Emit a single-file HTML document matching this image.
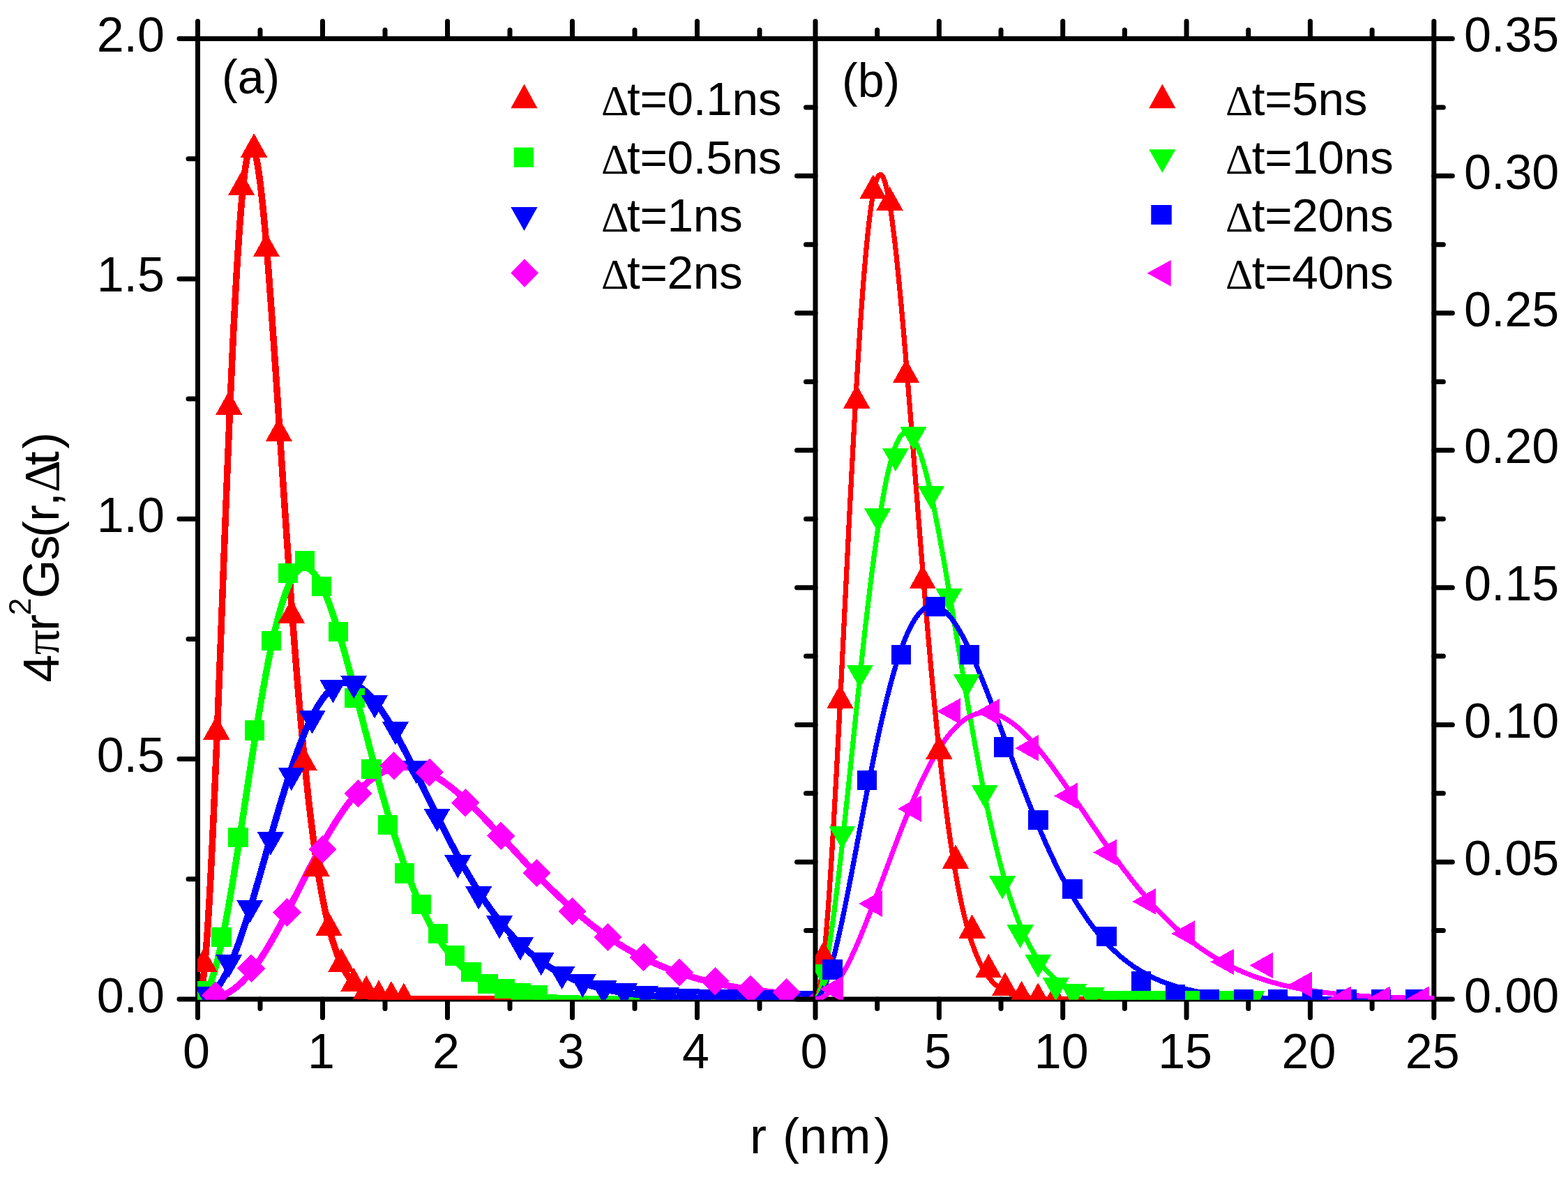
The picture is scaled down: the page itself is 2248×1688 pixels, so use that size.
<!DOCTYPE html>
<html><head><meta charset="utf-8"><title>4πr²Gs(r,Δt) vs r</title>
<style>html,body{margin:0;padding:0;background:#fff;}svg{display:block;}</style></head>
<body><svg xmlns="http://www.w3.org/2000/svg" width="2248" height="1688" viewBox="0 0 2248 1688">
<rect width="2248" height="1688" fill="#fff"/>
<defs><clipPath id="ca"><rect x="283" y="55" width="886.0" height="1378.7"/></clipPath><clipPath id="cb"><rect x="1169.0" y="55" width="887.3" height="1378.7"/></clipPath></defs>
<g fill="none" stroke="#000" stroke-width="7.0"><path stroke-linecap="square" d="M283.5,55.5H1169.0M283.5,1433.0H1169.0M283.5,55.5V1433.0"/><path stroke-linecap="round" d="M283.50,1433.00L283.50,1459.50M283.50,55.50L283.50,30.50M373.00,1433.00L373.00,1446.50M373.00,55.50L373.00,43.00M462.50,1433.00L462.50,1459.50M462.50,55.50L462.50,30.50M552.00,1433.00L552.00,1446.50M552.00,55.50L552.00,43.00M641.50,1433.00L641.50,1459.50M641.50,55.50L641.50,30.50M731.00,1433.00L731.00,1446.50M731.00,55.50L731.00,43.00M820.50,1433.00L820.50,1459.50M820.50,55.50L820.50,30.50M910.00,1433.00L910.00,1446.50M910.00,55.50L910.00,43.00M999.50,1433.00L999.50,1459.50M999.50,55.50L999.50,30.50M1089.00,1433.00L1089.00,1446.50M1089.00,55.50L1089.00,43.00M283.50,1433.00L257.00,1433.00M283.50,1260.81L270.00,1260.81M283.50,1088.62L257.00,1088.62M283.50,916.44L270.00,916.44M283.50,744.25L257.00,744.25M283.50,572.06L270.00,572.06M283.50,399.88L257.00,399.88M283.50,227.69L270.00,227.69M283.50,55.50L257.00,55.50"/></g>
<g clip-path="url(#ca)" shape-rendering="crispEdges"><polyline fill="none" stroke="#ff0000" stroke-width="9.5" stroke-linejoin="round" points="283.5,1433.0 285.0,1432.2 286.5,1429.5 288.0,1424.4 289.5,1416.9 291.0,1406.8 292.5,1394.1 294.0,1378.9 295.5,1361.1 297.0,1340.9 298.5,1318.3 300.0,1293.5 301.5,1266.6 303.0,1237.7 304.5,1207.1 306.0,1174.7 307.5,1140.9 309.0,1105.8 310.5,1069.6 312.0,1032.5 313.5,994.6 315.0,956.1 316.5,917.3 318.0,878.2 319.5,839.1 321.0,800.2 322.5,761.5 324.0,723.3 325.5,685.8 327.0,648.9 328.5,613.0 330.0,578.1 331.5,544.4 333.0,511.8 334.5,480.7 336.0,450.9 337.5,422.7 339.0,396.1 340.5,371.2 342.0,347.9 343.5,326.4 345.0,306.7 346.5,288.8 348.0,272.8 349.5,258.6 351.0,246.2 352.5,235.7 354.0,227.1 355.5,220.2 357.0,215.2 358.5,211.9 360.0,210.3 361.5,210.4 363.0,212.2 364.5,215.6 366.0,220.5 367.5,226.9 369.0,234.7 370.5,243.9 372.0,254.3 373.5,266.0 375.0,278.9 376.5,292.9 378.0,307.9 379.5,323.9 381.0,340.8 382.5,358.5 384.0,376.9 385.5,396.1 387.0,415.8 388.5,436.2 390.0,457.0 391.5,478.2 393.0,499.9 394.5,521.8 396.0,544.0 397.5,566.4 399.0,588.9 400.5,611.5 402.0,634.2 403.5,656.8 405.0,679.4 406.5,702.0 408.0,724.4 409.5,746.6 411.0,768.6 412.5,790.5 414.0,812.0 415.5,833.3 417.0,854.2 418.5,874.8 420.0,895.1 421.5,915.0 423.0,934.4 424.5,953.5 426.0,972.2 427.5,990.4 429.0,1008.2 430.5,1025.5 432.0,1042.4 433.5,1058.8 435.0,1074.8 436.5,1090.2 438.0,1105.3 439.5,1119.8 441.0,1133.9 442.5,1147.5 444.0,1160.7 445.5,1173.4 447.0,1185.7 448.5,1197.5 450.0,1208.9 451.5,1219.9 453.0,1230.4 454.5,1240.5 456.0,1250.3 457.5,1259.6 459.0,1268.5 460.5,1277.1 462.0,1285.3 463.5,1293.1 465.0,1300.6 466.5,1307.8 468.0,1314.7 469.5,1321.2 471.0,1327.4 472.5,1333.3 474.0,1339.0 475.5,1344.3 477.0,1349.4 478.5,1354.3 480.0,1358.9 481.5,1363.3 483.0,1367.4 484.5,1371.3 486.0,1375.1 487.5,1378.6 489.0,1381.9 490.5,1385.1 492.0,1388.1 493.5,1390.9 495.0,1393.5 496.5,1396.0 498.0,1398.4 499.5,1400.6 501.0,1402.7 502.5,1404.7 504.0,1406.6 505.5,1408.3 507.0,1410.0 508.5,1411.5 510.0,1412.9 511.5,1414.3 513.0,1415.6 514.5,1416.8 516.0,1417.9 517.5,1418.9 519.0,1419.9 520.5,1420.8 522.0,1421.7 523.5,1422.5 525.0,1423.3 526.5,1424.0 528.0,1424.6 529.5,1425.2 531.0,1425.8 532.5,1426.3 534.0,1426.8 535.5,1427.3 537.0,1427.7 538.5,1428.1 540.0,1428.5 541.5,1428.8 543.0,1429.1 544.5,1429.4 546.0,1429.7 547.5,1430.0 549.0,1430.2 550.5,1430.4 552.0,1430.6 553.5,1430.8 555.0,1431.0 556.5,1431.1 558.0,1431.3 559.5,1431.4 561.0,1431.5 562.5,1431.7 564.0,1431.8 565.5,1431.9 567.0,1432.0 568.5,1432.1 570.0,1432.1 571.5,1432.2 573.0,1432.3 574.5,1432.3 576.0,1432.4 577.5,1432.4 579.0,1432.5 580.5,1432.5 582.0,1432.6 583.5,1432.6 585.0,1432.6 586.5,1432.7 588.0,1432.7 589.5,1432.7 591.0,1432.8 592.5,1432.8 594.0,1432.8 595.5,1432.8 597.0,1432.8 598.5,1432.8 600.0,1432.9 601.5,1432.9 603.0,1432.9 604.5,1432.9 606.0,1432.9 607.5,1432.9 609.0,1432.9 610.5,1432.9 612.0,1432.9 613.5,1432.9 615.0,1432.9 616.5,1433.0 618.0,1433.0 619.5,1433.0 621.0,1433.0 622.5,1433.0 624.0,1433.0 625.5,1433.0 627.0,1433.0 628.5,1433.0 630.0,1433.0 631.5,1433.0 633.0,1433.0 634.5,1433.0 636.0,1433.0 637.5,1433.0 639.0,1433.0 640.5,1433.0 642.0,1433.0 643.5,1433.0 645.0,1433.0 646.5,1433.0 648.0,1433.0 649.5,1433.0 651.0,1433.0 652.5,1433.0 654.0,1433.0 655.5,1433.0 657.0,1433.0 658.5,1433.0 660.0,1433.0 661.5,1433.0 663.0,1433.0 664.5,1433.0 666.0,1433.0 667.5,1433.0 669.0,1433.0 670.5,1433.0 672.0,1433.0 673.5,1433.0 675.0,1433.0 676.5,1433.0 678.0,1433.0 679.5,1433.0 681.0,1433.0 682.5,1433.0 684.0,1433.0 685.5,1433.0 687.0,1433.0 688.5,1433.0 690.0,1433.0 691.5,1433.0 693.0,1433.0 694.5,1433.0 696.0,1433.0 697.5,1433.0 699.0,1433.0 700.5,1433.0 702.0,1433.0 703.5,1433.0 705.0,1433.0 706.5,1433.0 708.0,1433.0 709.5,1433.0 711.0,1433.0 712.5,1433.0 714.0,1433.0 715.5,1433.0 717.0,1433.0 718.5,1433.0 720.0,1433.0 721.5,1433.0 723.0,1433.0 724.5,1433.0 726.0,1433.0 727.5,1433.0 729.0,1433.0 730.5,1433.0 732.0,1433.0 733.5,1433.0 735.0,1433.0 736.5,1433.0 738.0,1433.0 739.5,1433.0 741.0,1433.0 742.5,1433.0 744.0,1433.0 745.5,1433.0 747.0,1433.0 748.5,1433.0 750.0,1433.0 751.5,1433.0 753.0,1433.0 754.5,1433.0 756.0,1433.0 757.5,1433.0 759.0,1433.0 760.5,1433.0 762.0,1433.0 763.5,1433.0 765.0,1433.0 766.5,1433.0 768.0,1433.0 769.5,1433.0 771.0,1433.0 772.5,1433.0 774.0,1433.0 775.5,1433.0 777.0,1433.0 778.5,1433.0 780.0,1433.0 781.5,1433.0 783.0,1433.0 784.5,1433.0 786.0,1433.0 787.5,1433.0 789.0,1433.0 790.5,1433.0 792.0,1433.0 793.5,1433.0 795.0,1433.0 796.5,1433.0 798.0,1433.0 799.5,1433.0 801.0,1433.0 802.5,1433.0 804.0,1433.0 805.5,1433.0 807.0,1433.0 808.5,1433.0 810.0,1433.0 811.5,1433.0 813.0,1433.0 814.5,1433.0 816.0,1433.0 817.5,1433.0 819.0,1433.0 820.5,1433.0 822.0,1433.0 823.5,1433.0 825.0,1433.0 826.5,1433.0 828.0,1433.0 829.5,1433.0 831.0,1433.0 832.5,1433.0 834.0,1433.0 835.5,1433.0 837.0,1433.0 838.5,1433.0 840.0,1433.0 841.5,1433.0 843.0,1433.0 844.5,1433.0 846.0,1433.0 847.5,1433.0 849.0,1433.0 850.5,1433.0 852.0,1433.0 853.5,1433.0 855.0,1433.0 856.5,1433.0 858.0,1433.0 859.5,1433.0 861.0,1433.0 862.5,1433.0 864.0,1433.0 865.5,1433.0 867.0,1433.0 868.5,1433.0 870.0,1433.0 871.5,1433.0 873.0,1433.0 874.5,1433.0 876.0,1433.0 877.5,1433.0 879.0,1433.0 880.5,1433.0 882.0,1433.0 883.5,1433.0 885.0,1433.0 886.5,1433.0 888.0,1433.0 889.5,1433.0 891.0,1433.0 892.5,1433.0 894.0,1433.0 895.5,1433.0 897.0,1433.0 898.5,1433.0 900.0,1433.0 901.5,1433.0 903.0,1433.0 904.5,1433.0 906.0,1433.0 907.5,1433.0 909.0,1433.0 910.5,1433.0 912.0,1433.0 913.5,1433.0 915.0,1433.0 916.5,1433.0 918.0,1433.0 919.5,1433.0 921.0,1433.0 922.5,1433.0 924.0,1433.0 925.5,1433.0 927.0,1433.0 928.5,1433.0 930.0,1433.0 931.5,1433.0 933.0,1433.0 934.5,1433.0 936.0,1433.0 937.5,1433.0 939.0,1433.0 940.5,1433.0 942.0,1433.0 943.5,1433.0 945.0,1433.0 946.5,1433.0 948.0,1433.0 949.5,1433.0 951.0,1433.0 952.5,1433.0 954.0,1433.0 955.5,1433.0 957.0,1433.0 958.5,1433.0 960.0,1433.0 961.5,1433.0 963.0,1433.0 964.5,1433.0 966.0,1433.0 967.5,1433.0 969.0,1433.0 970.5,1433.0 972.0,1433.0 973.5,1433.0 975.0,1433.0 976.5,1433.0 978.0,1433.0 979.5,1433.0 981.0,1433.0 982.5,1433.0 984.0,1433.0 985.5,1433.0 987.0,1433.0 988.5,1433.0 990.0,1433.0 991.5,1433.0 993.0,1433.0 994.5,1433.0 996.0,1433.0 997.5,1433.0 999.0,1433.0 1000.5,1433.0 1002.0,1433.0 1003.5,1433.0 1005.0,1433.0 1006.5,1433.0 1008.0,1433.0 1009.5,1433.0 1011.0,1433.0 1012.5,1433.0 1014.0,1433.0 1015.5,1433.0 1017.0,1433.0 1018.5,1433.0 1020.0,1433.0 1021.5,1433.0 1023.0,1433.0 1024.5,1433.0 1026.0,1433.0 1027.5,1433.0 1029.0,1433.0 1030.5,1433.0 1032.0,1433.0 1033.5,1433.0 1035.0,1433.0 1036.5,1433.0 1038.0,1433.0 1039.5,1433.0 1041.0,1433.0 1042.5,1433.0 1044.0,1433.0 1045.5,1433.0 1047.0,1433.0 1048.5,1433.0 1050.0,1433.0 1051.5,1433.0 1053.0,1433.0 1054.5,1433.0 1056.0,1433.0 1057.5,1433.0 1059.0,1433.0 1060.5,1433.0 1062.0,1433.0 1063.5,1433.0 1065.0,1433.0 1066.5,1433.0 1068.0,1433.0 1069.5,1433.0 1071.0,1433.0 1072.5,1433.0 1074.0,1433.0 1075.5,1433.0 1077.0,1433.0 1078.5,1433.0 1080.0,1433.0 1081.5,1433.0 1083.0,1433.0 1084.5,1433.0 1086.0,1433.0 1087.5,1433.0 1089.0,1433.0 1090.5,1433.0 1092.0,1433.0 1093.5,1433.0 1095.0,1433.0 1096.5,1433.0 1098.0,1433.0 1099.5,1433.0 1101.0,1433.0 1102.5,1433.0 1104.0,1433.0 1105.5,1433.0 1107.0,1433.0 1108.5,1433.0 1110.0,1433.0 1111.5,1433.0 1113.0,1433.0 1114.5,1433.0 1116.0,1433.0 1117.5,1433.0 1119.0,1433.0 1120.5,1433.0 1122.0,1433.0 1123.5,1433.0 1125.0,1433.0 1126.5,1433.0 1128.0,1433.0 1129.5,1433.0 1131.0,1433.0 1132.5,1433.0 1134.0,1433.0 1135.5,1433.0 1137.0,1433.0 1138.5,1433.0 1140.0,1433.0 1141.5,1433.0 1143.0,1433.0 1144.5,1433.0 1146.0,1433.0 1147.5,1433.0 1149.0,1433.0 1150.5,1433.0 1152.0,1433.0 1153.5,1433.0 1155.0,1433.0 1156.5,1433.0 1158.0,1433.0 1159.5,1433.0 1161.0,1433.0 1162.5,1433.0 1164.0,1433.0 1165.5,1433.0 1167.0,1433.0 1168.5,1433.0 1170.0,1433.0 1171.5,1433.0 1173.0,1433.0 1174.5,1433.0 1176.0,1433.0 1177.5,1433.0 1179.0,1433.0"/><polyline fill="none" stroke="#00ff00" stroke-width="9.5" stroke-linejoin="round" points="283.5,1433.0 285.0,1432.9 286.5,1432.5 288.0,1431.8 289.5,1430.8 291.0,1429.5 292.5,1427.8 294.0,1425.9 295.5,1423.5 297.0,1420.9 298.5,1417.9 300.0,1414.5 301.5,1410.8 303.0,1406.8 304.5,1402.5 306.0,1397.9 307.5,1392.9 309.0,1387.7 310.5,1382.1 312.0,1376.2 313.5,1370.1 315.0,1363.7 316.5,1357.0 318.0,1350.1 319.5,1342.9 321.0,1335.4 322.5,1327.8 324.0,1319.9 325.5,1311.8 327.0,1303.5 328.5,1295.1 330.0,1286.4 331.5,1277.6 333.0,1268.7 334.5,1259.6 336.0,1250.3 337.5,1241.0 339.0,1231.6 340.5,1222.0 342.0,1212.4 343.5,1202.7 345.0,1192.9 346.5,1183.1 348.0,1173.3 349.5,1163.4 351.0,1153.5 352.5,1143.6 354.0,1133.7 355.5,1123.9 357.0,1114.0 358.5,1104.2 360.0,1094.5 361.5,1084.8 363.0,1075.1 364.5,1065.6 366.0,1056.1 367.5,1046.7 369.0,1037.5 370.5,1028.3 372.0,1019.3 373.5,1010.4 375.0,1001.6 376.5,992.9 378.0,984.5 379.5,976.1 381.0,968.0 382.5,960.0 384.0,952.1 385.5,944.5 387.0,937.0 388.5,929.8 390.0,922.7 391.5,915.8 393.0,909.2 394.5,902.7 396.0,896.5 397.5,890.4 399.0,884.6 400.5,879.0 402.0,873.7 403.5,868.5 405.0,863.6 406.5,858.9 408.0,854.5 409.5,850.3 411.0,846.3 412.5,842.5 414.0,839.0 415.5,835.7 417.0,832.7 418.5,829.9 420.0,827.3 421.5,824.9 423.0,822.8 424.5,820.9 426.0,819.3 427.5,817.9 429.0,816.6 430.5,815.7 432.0,814.9 433.5,814.4 435.0,814.1 436.5,814.0 438.0,814.1 439.5,814.4 441.0,814.9 442.5,815.6 444.0,816.6 445.5,817.7 447.0,819.0 448.5,820.5 450.0,822.2 451.5,824.1 453.0,826.2 454.5,828.4 456.0,830.8 457.5,833.4 459.0,836.1 460.5,839.0 462.0,842.0 463.5,845.2 465.0,848.6 466.5,852.1 468.0,855.7 469.5,859.4 471.0,863.3 472.5,867.3 474.0,871.4 475.5,875.7 477.0,880.0 478.5,884.5 480.0,889.0 481.5,893.7 483.0,898.4 484.5,903.3 486.0,908.2 487.5,913.2 489.0,918.3 490.5,923.4 492.0,928.7 493.5,933.9 495.0,939.3 496.5,944.7 498.0,950.1 499.5,955.6 501.0,961.2 502.5,966.8 504.0,972.4 505.5,978.0 507.0,983.7 508.5,989.4 510.0,995.1 511.5,1000.9 513.0,1006.7 514.5,1012.4 516.0,1018.2 517.5,1024.0 519.0,1029.8 520.5,1035.6 522.0,1041.4 523.5,1047.2 525.0,1052.9 526.5,1058.7 528.0,1064.5 529.5,1070.2 531.0,1075.9 532.5,1081.6 534.0,1087.3 535.5,1092.9 537.0,1098.5 538.5,1104.1 540.0,1109.7 541.5,1115.2 543.0,1120.7 544.5,1126.1 546.0,1131.5 547.5,1136.9 549.0,1142.2 550.5,1147.5 552.0,1152.7 553.5,1157.9 555.0,1163.1 556.5,1168.2 558.0,1173.2 559.5,1178.2 561.0,1183.2 562.5,1188.1 564.0,1192.9 565.5,1197.7 567.0,1202.4 568.5,1207.1 570.0,1211.7 571.5,1216.2 573.0,1220.7 574.5,1225.2 576.0,1229.6 577.5,1233.9 579.0,1238.1 580.5,1242.3 582.0,1246.5 583.5,1250.6 585.0,1254.6 586.5,1258.6 588.0,1262.5 589.5,1266.3 591.0,1270.1 592.5,1273.8 594.0,1277.5 595.5,1281.1 597.0,1284.6 598.5,1288.1 600.0,1291.5 601.5,1294.9 603.0,1298.2 604.5,1301.4 606.0,1304.6 607.5,1307.7 609.0,1310.8 610.5,1313.8 612.0,1316.8 613.5,1319.7 615.0,1322.5 616.5,1325.3 618.0,1328.1 619.5,1330.7 621.0,1333.4 622.5,1335.9 624.0,1338.5 625.5,1340.9 627.0,1343.3 628.5,1345.7 630.0,1348.0 631.5,1350.3 633.0,1352.5 634.5,1354.7 636.0,1356.8 637.5,1358.9 639.0,1360.9 640.5,1362.9 642.0,1364.8 643.5,1366.7 645.0,1368.6 646.5,1370.4 648.0,1372.2 649.5,1373.9 651.0,1375.6 652.5,1377.2 654.0,1378.8 655.5,1380.4 657.0,1381.9 658.5,1383.4 660.0,1384.9 661.5,1386.3 663.0,1387.7 664.5,1389.0 666.0,1390.3 667.5,1391.6 669.0,1392.8 670.5,1394.1 672.0,1395.2 673.5,1396.4 675.0,1397.5 676.5,1398.6 678.0,1399.7 679.5,1400.7 681.0,1401.7 682.5,1402.7 684.0,1403.6 685.5,1404.5 687.0,1405.4 688.5,1406.3 690.0,1407.2 691.5,1408.0 693.0,1408.8 694.5,1409.6 696.0,1410.3 697.5,1411.1 699.0,1411.8 700.5,1412.5 702.0,1413.2 703.5,1413.8 705.0,1414.4 706.5,1415.1 708.0,1415.7 709.5,1416.2 711.0,1416.8 712.5,1417.3 714.0,1417.9 715.5,1418.4 717.0,1418.9 718.5,1419.4 720.0,1419.8 721.5,1420.3 723.0,1420.7 724.5,1421.2 726.0,1421.6 727.5,1422.0 729.0,1422.4 730.5,1422.7 732.0,1423.1 733.5,1423.4 735.0,1423.8 736.5,1424.1 738.0,1424.4 739.5,1424.7 741.0,1425.0 742.5,1425.3 744.0,1425.6 745.5,1425.9 747.0,1426.1 748.5,1426.4 750.0,1426.6 751.5,1426.8 753.0,1427.1 754.5,1427.3 756.0,1427.5 757.5,1427.7 759.0,1427.9 760.5,1428.1 762.0,1428.3 763.5,1428.5 765.0,1428.6 766.5,1428.8 768.0,1429.0 769.5,1429.1 771.0,1429.3 772.5,1429.4 774.0,1429.5 775.5,1429.7 777.0,1429.8 778.5,1429.9 780.0,1430.0 781.5,1430.2 783.0,1430.3 784.5,1430.4 786.0,1430.5 787.5,1430.6 789.0,1430.7 790.5,1430.8 792.0,1430.9 793.5,1430.9 795.0,1431.0 796.5,1431.1 798.0,1431.2 799.5,1431.3 801.0,1431.3 802.5,1431.4 804.0,1431.5 805.5,1431.5 807.0,1431.6 808.5,1431.6 810.0,1431.7 811.5,1431.7 813.0,1431.8 814.5,1431.8 816.0,1431.9 817.5,1431.9 819.0,1432.0 820.5,1432.0 822.0,1432.1 823.5,1432.1 825.0,1432.1 826.5,1432.2 828.0,1432.2 829.5,1432.2 831.0,1432.3 832.5,1432.3 834.0,1432.3 835.5,1432.4 837.0,1432.4 838.5,1432.4 840.0,1432.4 841.5,1432.5 843.0,1432.5 844.5,1432.5 846.0,1432.5 847.5,1432.6 849.0,1432.6 850.5,1432.6 852.0,1432.6 853.5,1432.6 855.0,1432.6 856.5,1432.7 858.0,1432.7 859.5,1432.7 861.0,1432.7 862.5,1432.7 864.0,1432.7 865.5,1432.7 867.0,1432.8 868.5,1432.8 870.0,1432.8 871.5,1432.8 873.0,1432.8 874.5,1432.8 876.0,1432.8 877.5,1432.8 879.0,1432.8 880.5,1432.8 882.0,1432.8 883.5,1432.9 885.0,1432.9 886.5,1432.9 888.0,1432.9 889.5,1432.9 891.0,1432.9 892.5,1432.9 894.0,1432.9 895.5,1432.9 897.0,1432.9 898.5,1432.9 900.0,1432.9 901.5,1432.9 903.0,1432.9 904.5,1432.9 906.0,1432.9 907.5,1432.9 909.0,1432.9 910.5,1432.9 912.0,1432.9 913.5,1432.9 915.0,1432.9 916.5,1432.9 918.0,1433.0 919.5,1433.0 921.0,1433.0 922.5,1433.0 924.0,1433.0 925.5,1433.0 927.0,1433.0 928.5,1433.0 930.0,1433.0 931.5,1433.0 933.0,1433.0 934.5,1433.0 936.0,1433.0 937.5,1433.0 939.0,1433.0 940.5,1433.0 942.0,1433.0 943.5,1433.0 945.0,1433.0 946.5,1433.0 948.0,1433.0 949.5,1433.0 951.0,1433.0 952.5,1433.0 954.0,1433.0 955.5,1433.0 957.0,1433.0 958.5,1433.0 960.0,1433.0 961.5,1433.0 963.0,1433.0 964.5,1433.0 966.0,1433.0 967.5,1433.0 969.0,1433.0 970.5,1433.0 972.0,1433.0 973.5,1433.0 975.0,1433.0 976.5,1433.0 978.0,1433.0 979.5,1433.0 981.0,1433.0 982.5,1433.0 984.0,1433.0 985.5,1433.0 987.0,1433.0 988.5,1433.0 990.0,1433.0 991.5,1433.0 993.0,1433.0 994.5,1433.0 996.0,1433.0 997.5,1433.0 999.0,1433.0 1000.5,1433.0 1002.0,1433.0 1003.5,1433.0 1005.0,1433.0 1006.5,1433.0 1008.0,1433.0 1009.5,1433.0 1011.0,1433.0 1012.5,1433.0 1014.0,1433.0 1015.5,1433.0 1017.0,1433.0 1018.5,1433.0 1020.0,1433.0 1021.5,1433.0 1023.0,1433.0 1024.5,1433.0 1026.0,1433.0 1027.5,1433.0 1029.0,1433.0 1030.5,1433.0 1032.0,1433.0 1033.5,1433.0 1035.0,1433.0 1036.5,1433.0 1038.0,1433.0 1039.5,1433.0 1041.0,1433.0 1042.5,1433.0 1044.0,1433.0 1045.5,1433.0 1047.0,1433.0 1048.5,1433.0 1050.0,1433.0 1051.5,1433.0 1053.0,1433.0 1054.5,1433.0 1056.0,1433.0 1057.5,1433.0 1059.0,1433.0 1060.5,1433.0 1062.0,1433.0 1063.5,1433.0 1065.0,1433.0 1066.5,1433.0 1068.0,1433.0 1069.5,1433.0 1071.0,1433.0 1072.5,1433.0 1074.0,1433.0 1075.5,1433.0 1077.0,1433.0 1078.5,1433.0 1080.0,1433.0 1081.5,1433.0 1083.0,1433.0 1084.5,1433.0 1086.0,1433.0 1087.5,1433.0 1089.0,1433.0 1090.5,1433.0 1092.0,1433.0 1093.5,1433.0 1095.0,1433.0 1096.5,1433.0 1098.0,1433.0 1099.5,1433.0 1101.0,1433.0 1102.5,1433.0 1104.0,1433.0 1105.5,1433.0 1107.0,1433.0 1108.5,1433.0 1110.0,1433.0 1111.5,1433.0 1113.0,1433.0 1114.5,1433.0 1116.0,1433.0 1117.5,1433.0 1119.0,1433.0 1120.5,1433.0 1122.0,1433.0 1123.5,1433.0 1125.0,1433.0 1126.5,1433.0 1128.0,1433.0 1129.5,1433.0 1131.0,1433.0 1132.5,1433.0 1134.0,1433.0 1135.5,1433.0 1137.0,1433.0 1138.5,1433.0 1140.0,1433.0 1141.5,1433.0 1143.0,1433.0 1144.5,1433.0 1146.0,1433.0 1147.5,1433.0 1149.0,1433.0 1150.5,1433.0 1152.0,1433.0 1153.5,1433.0 1155.0,1433.0 1156.5,1433.0 1158.0,1433.0 1159.5,1433.0 1161.0,1433.0 1162.5,1433.0 1164.0,1433.0 1165.5,1433.0 1167.0,1433.0 1168.5,1433.0 1170.0,1433.0 1171.5,1433.0 1173.0,1433.0 1174.5,1433.0 1176.0,1433.0 1177.5,1433.0 1179.0,1433.0"/><polyline fill="none" stroke="#0000ff" stroke-width="9.5" stroke-linejoin="round" points="283.5,1433.0 285.0,1433.0 286.5,1432.9 288.0,1432.8 289.5,1432.5 291.0,1432.2 292.5,1431.8 294.0,1431.3 295.5,1430.6 297.0,1429.9 298.5,1429.0 300.0,1428.1 301.5,1427.0 303.0,1425.8 304.5,1424.5 306.0,1423.0 307.5,1421.4 309.0,1419.8 310.5,1417.9 312.0,1416.0 313.5,1414.0 315.0,1411.8 316.5,1409.5 318.0,1407.1 319.5,1404.5 321.0,1401.9 322.5,1399.1 324.0,1396.2 325.5,1393.2 327.0,1390.1 328.5,1386.8 330.0,1383.5 331.5,1380.1 333.0,1376.5 334.5,1372.9 336.0,1369.1 337.5,1365.3 339.0,1361.4 340.5,1357.3 342.0,1353.2 343.5,1349.0 345.0,1344.8 346.5,1340.4 348.0,1336.0 349.5,1331.5 351.0,1326.9 352.5,1322.2 354.0,1317.5 355.5,1312.7 357.0,1307.9 358.5,1303.0 360.0,1298.1 361.5,1293.1 363.0,1288.1 364.5,1283.0 366.0,1277.9 367.5,1272.8 369.0,1267.6 370.5,1262.4 372.0,1257.2 373.5,1252.0 375.0,1246.7 376.5,1241.4 378.0,1236.2 379.5,1230.9 381.0,1225.6 382.5,1220.3 384.0,1215.0 385.5,1209.7 387.0,1204.4 388.5,1199.1 390.0,1193.8 391.5,1188.6 393.0,1183.4 394.5,1178.2 396.0,1173.0 397.5,1167.8 399.0,1162.7 400.5,1157.6 402.0,1152.6 403.5,1147.6 405.0,1142.6 406.5,1137.7 408.0,1132.8 409.5,1128.0 411.0,1123.2 412.5,1118.5 414.0,1113.8 415.5,1109.2 417.0,1104.6 418.5,1100.1 420.0,1095.7 421.5,1091.3 423.0,1087.0 424.5,1082.8 426.0,1078.6 427.5,1074.5 429.0,1070.5 430.5,1066.6 432.0,1062.7 433.5,1058.9 435.0,1055.2 436.5,1051.6 438.0,1048.0 439.5,1044.6 441.0,1041.2 442.5,1037.9 444.0,1034.7 445.5,1031.5 447.0,1028.5 448.5,1025.5 450.0,1022.7 451.5,1019.9 453.0,1017.2 454.5,1014.6 456.0,1012.1 457.5,1009.7 459.0,1007.4 460.5,1005.2 462.0,1003.0 463.5,1001.0 465.0,999.0 466.5,997.2 468.0,995.4 469.5,993.7 471.0,992.1 472.5,990.6 474.0,989.2 475.5,987.9 477.0,986.7 478.5,985.6 480.0,984.6 481.5,983.6 483.0,982.8 484.5,982.0 486.0,981.3 487.5,980.7 489.0,980.2 490.5,979.8 492.0,979.5 493.5,979.2 495.0,979.1 496.5,979.0 498.0,979.0 499.5,979.1 501.0,979.3 502.5,979.5 504.0,979.9 505.5,980.3 507.0,980.8 508.5,981.4 510.0,982.0 511.5,982.7 513.0,983.5 514.5,984.4 516.0,985.3 517.5,986.3 519.0,987.4 520.5,988.6 522.0,989.8 523.5,991.1 525.0,992.4 526.5,993.8 528.0,995.3 529.5,996.9 531.0,998.5 532.5,1000.1 534.0,1001.8 535.5,1003.6 537.0,1005.4 538.5,1007.3 540.0,1009.2 541.5,1011.2 543.0,1013.2 544.5,1015.3 546.0,1017.5 547.5,1019.6 549.0,1021.9 550.5,1024.1 552.0,1026.4 553.5,1028.8 555.0,1031.2 556.5,1033.6 558.0,1036.1 559.5,1038.6 561.0,1041.1 562.5,1043.7 564.0,1046.3 565.5,1048.9 567.0,1051.6 568.5,1054.3 570.0,1057.0 571.5,1059.8 573.0,1062.6 574.5,1065.4 576.0,1068.2 577.5,1071.1 579.0,1073.9 580.5,1076.8 582.0,1079.7 583.5,1082.7 585.0,1085.6 586.5,1088.6 588.0,1091.5 589.5,1094.5 591.0,1097.5 592.5,1100.5 594.0,1103.5 595.5,1106.6 597.0,1109.6 598.5,1112.7 600.0,1115.7 601.5,1118.8 603.0,1121.8 604.5,1124.9 606.0,1128.0 607.5,1131.1 609.0,1134.1 610.5,1137.2 612.0,1140.3 613.5,1143.3 615.0,1146.4 616.5,1149.5 618.0,1152.5 619.5,1155.6 621.0,1158.7 622.5,1161.7 624.0,1164.8 625.5,1167.8 627.0,1170.8 628.5,1173.8 630.0,1176.8 631.5,1179.8 633.0,1182.8 634.5,1185.8 636.0,1188.8 637.5,1191.7 639.0,1194.7 640.5,1197.6 642.0,1200.5 643.5,1203.4 645.0,1206.3 646.5,1209.2 648.0,1212.1 649.5,1214.9 651.0,1217.7 652.5,1220.5 654.0,1223.3 655.5,1226.1 657.0,1228.9 658.5,1231.6 660.0,1234.3 661.5,1237.0 663.0,1239.7 664.5,1242.4 666.0,1245.0 667.5,1247.6 669.0,1250.2 670.5,1252.8 672.0,1255.4 673.5,1257.9 675.0,1260.4 676.5,1262.9 678.0,1265.4 679.5,1267.9 681.0,1270.3 682.5,1272.7 684.0,1275.1 685.5,1277.5 687.0,1279.8 688.5,1282.1 690.0,1284.4 691.5,1286.7 693.0,1289.0 694.5,1291.2 696.0,1293.4 697.5,1295.6 699.0,1297.7 700.5,1299.9 702.0,1302.0 703.5,1304.1 705.0,1306.2 706.5,1308.2 708.0,1310.2 709.5,1312.2 711.0,1314.2 712.5,1316.2 714.0,1318.1 715.5,1320.0 717.0,1321.9 718.5,1323.8 720.0,1325.6 721.5,1327.4 723.0,1329.2 724.5,1331.0 726.0,1332.7 727.5,1334.5 729.0,1336.2 730.5,1337.8 732.0,1339.5 733.5,1341.1 735.0,1342.8 736.5,1344.4 738.0,1345.9 739.5,1347.5 741.0,1349.0 742.5,1350.5 744.0,1352.0 745.5,1353.5 747.0,1354.9 748.5,1356.4 750.0,1357.8 751.5,1359.1 753.0,1360.5 754.5,1361.9 756.0,1363.2 757.5,1364.5 759.0,1365.8 760.5,1367.0 762.0,1368.3 763.5,1369.5 765.0,1370.7 766.5,1371.9 768.0,1373.1 769.5,1374.2 771.0,1375.4 772.5,1376.5 774.0,1377.6 775.5,1378.7 777.0,1379.8 778.5,1380.8 780.0,1381.8 781.5,1382.8 783.0,1383.8 784.5,1384.8 786.0,1385.8 787.5,1386.7 789.0,1387.7 790.5,1388.6 792.0,1389.5 793.5,1390.4 795.0,1391.2 796.5,1392.1 798.0,1392.9 799.5,1393.8 801.0,1394.6 802.5,1395.4 804.0,1396.2 805.5,1396.9 807.0,1397.7 808.5,1398.4 810.0,1399.2 811.5,1399.9 813.0,1400.6 814.5,1401.3 816.0,1401.9 817.5,1402.6 819.0,1403.3 820.5,1403.9 822.0,1404.5 823.5,1405.2 825.0,1405.8 826.5,1406.4 828.0,1406.9 829.5,1407.5 831.0,1408.1 832.5,1408.6 834.0,1409.2 835.5,1409.7 837.0,1410.2 838.5,1410.7 840.0,1411.2 841.5,1411.7 843.0,1412.2 844.5,1412.6 846.0,1413.1 847.5,1413.6 849.0,1414.0 850.5,1414.4 852.0,1414.9 853.5,1415.3 855.0,1415.7 856.5,1416.1 858.0,1416.5 859.5,1416.9 861.0,1417.2 862.5,1417.6 864.0,1418.0 865.5,1418.3 867.0,1418.7 868.5,1419.0 870.0,1419.3 871.5,1419.6 873.0,1420.0 874.5,1420.3 876.0,1420.6 877.5,1420.9 879.0,1421.2 880.5,1421.4 882.0,1421.7 883.5,1422.0 885.0,1422.3 886.5,1422.5 888.0,1422.8 889.5,1423.0 891.0,1423.3 892.5,1423.5 894.0,1423.7 895.5,1424.0 897.0,1424.2 898.5,1424.4 900.0,1424.6 901.5,1424.8 903.0,1425.0 904.5,1425.2 906.0,1425.4 907.5,1425.6 909.0,1425.8 910.5,1426.0 912.0,1426.2 913.5,1426.3 915.0,1426.5 916.5,1426.7 918.0,1426.8 919.5,1427.0 921.0,1427.1 922.5,1427.3 924.0,1427.4 925.5,1427.6 927.0,1427.7 928.5,1427.8 930.0,1428.0 931.5,1428.1 933.0,1428.2 934.5,1428.4 936.0,1428.5 937.5,1428.6 939.0,1428.7 940.5,1428.8 942.0,1428.9 943.5,1429.0 945.0,1429.2 946.5,1429.3 948.0,1429.4 949.5,1429.4 951.0,1429.5 952.5,1429.6 954.0,1429.7 955.5,1429.8 957.0,1429.9 958.5,1430.0 960.0,1430.1 961.5,1430.1 963.0,1430.2 964.5,1430.3 966.0,1430.4 967.5,1430.4 969.0,1430.5 970.5,1430.6 972.0,1430.6 973.5,1430.7 975.0,1430.8 976.5,1430.8 978.0,1430.9 979.5,1431.0 981.0,1431.0 982.5,1431.1 984.0,1431.1 985.5,1431.2 987.0,1431.2 988.5,1431.3 990.0,1431.3 991.5,1431.4 993.0,1431.4 994.5,1431.5 996.0,1431.5 997.5,1431.5 999.0,1431.6 1000.5,1431.6 1002.0,1431.7 1003.5,1431.7 1005.0,1431.7 1006.5,1431.8 1008.0,1431.8 1009.5,1431.8 1011.0,1431.9 1012.5,1431.9 1014.0,1431.9 1015.5,1432.0 1017.0,1432.0 1018.5,1432.0 1020.0,1432.1 1021.5,1432.1 1023.0,1432.1 1024.5,1432.1 1026.0,1432.2 1027.5,1432.2 1029.0,1432.2 1030.5,1432.2 1032.0,1432.3 1033.5,1432.3 1035.0,1432.3 1036.5,1432.3 1038.0,1432.3 1039.5,1432.4 1041.0,1432.4 1042.5,1432.4 1044.0,1432.4 1045.5,1432.4 1047.0,1432.4 1048.5,1432.5 1050.0,1432.5 1051.5,1432.5 1053.0,1432.5 1054.5,1432.5 1056.0,1432.5 1057.5,1432.6 1059.0,1432.6 1060.5,1432.6 1062.0,1432.6 1063.5,1432.6 1065.0,1432.6 1066.5,1432.6 1068.0,1432.6 1069.5,1432.7 1071.0,1432.7 1072.5,1432.7 1074.0,1432.7 1075.5,1432.7 1077.0,1432.7 1078.5,1432.7 1080.0,1432.7 1081.5,1432.7 1083.0,1432.7 1084.5,1432.7 1086.0,1432.8 1087.5,1432.8 1089.0,1432.8 1090.5,1432.8 1092.0,1432.8 1093.5,1432.8 1095.0,1432.8 1096.5,1432.8 1098.0,1432.8 1099.5,1432.8 1101.0,1432.8 1102.5,1432.8 1104.0,1432.8 1105.5,1432.8 1107.0,1432.8 1108.5,1432.8 1110.0,1432.9 1111.5,1432.9 1113.0,1432.9 1114.5,1432.9 1116.0,1432.9 1117.5,1432.9 1119.0,1432.9 1120.5,1432.9 1122.0,1432.9 1123.5,1432.9 1125.0,1432.9 1126.5,1432.9 1128.0,1432.9 1129.5,1432.9 1131.0,1432.9 1132.5,1432.9 1134.0,1432.9 1135.5,1432.9 1137.0,1432.9 1138.5,1432.9 1140.0,1432.9 1141.5,1432.9 1143.0,1432.9 1144.5,1432.9 1146.0,1432.9 1147.5,1432.9 1149.0,1432.9 1150.5,1432.9 1152.0,1432.9 1153.5,1432.9 1155.0,1432.9 1156.5,1432.9 1158.0,1432.9 1159.5,1433.0 1161.0,1433.0 1162.5,1433.0 1164.0,1433.0 1165.5,1433.0 1167.0,1433.0 1168.5,1433.0 1170.0,1433.0 1171.5,1433.0 1173.0,1433.0 1174.5,1433.0 1176.0,1433.0 1177.5,1433.0 1179.0,1433.0"/><polyline fill="none" stroke="#ff00ff" stroke-width="9.5" stroke-linejoin="round" points="283.5,1433.0 285.0,1433.0 286.5,1433.0 288.0,1433.0 289.5,1433.0 291.0,1432.9 292.5,1432.9 294.0,1432.8 295.5,1432.8 297.0,1432.7 298.5,1432.5 300.0,1432.4 301.5,1432.2 303.0,1432.0 304.5,1431.8 306.0,1431.5 307.5,1431.2 309.0,1430.9 310.5,1430.5 312.0,1430.1 313.5,1429.7 315.0,1429.2 316.5,1428.7 318.0,1428.2 319.5,1427.6 321.0,1426.9 322.5,1426.2 324.0,1425.5 325.5,1424.7 327.0,1423.9 328.5,1423.0 330.0,1422.1 331.5,1421.1 333.0,1420.1 334.5,1419.1 336.0,1418.0 337.5,1416.8 339.0,1415.6 340.5,1414.3 342.0,1413.0 343.5,1411.7 345.0,1410.3 346.5,1408.9 348.0,1407.4 349.5,1405.8 351.0,1404.2 352.5,1402.6 354.0,1400.9 355.5,1399.2 357.0,1397.4 358.5,1395.6 360.0,1393.7 361.5,1391.8 363.0,1389.9 364.5,1387.9 366.0,1385.9 367.5,1383.8 369.0,1381.7 370.5,1379.5 372.0,1377.3 373.5,1375.1 375.0,1372.8 376.5,1370.5 378.0,1368.2 379.5,1365.8 381.0,1363.4 382.5,1360.9 384.0,1358.4 385.5,1355.9 387.0,1353.4 388.5,1350.8 390.0,1348.2 391.5,1345.6 393.0,1343.0 394.5,1340.3 396.0,1337.6 397.5,1334.9 399.0,1332.1 400.5,1329.3 402.0,1326.6 403.5,1323.8 405.0,1320.9 406.5,1318.1 408.0,1315.3 409.5,1312.4 411.0,1309.5 412.5,1306.6 414.0,1303.7 415.5,1300.8 417.0,1297.9 418.5,1295.0 420.0,1292.0 421.5,1289.1 423.0,1286.1 424.5,1283.2 426.0,1280.2 427.5,1277.3 429.0,1274.3 430.5,1271.4 432.0,1268.4 433.5,1265.5 435.0,1262.6 436.5,1259.6 438.0,1256.7 439.5,1253.8 441.0,1250.9 442.5,1248.0 444.0,1245.1 445.5,1242.2 447.0,1239.3 448.5,1236.4 450.0,1233.6 451.5,1230.8 453.0,1227.9 454.5,1225.1 456.0,1222.4 457.5,1219.6 459.0,1216.8 460.5,1214.1 462.0,1211.4 463.5,1208.7 465.0,1206.1 466.5,1203.4 468.0,1200.8 469.5,1198.2 471.0,1195.6 472.5,1193.1 474.0,1190.6 475.5,1188.1 477.0,1185.6 478.5,1183.2 480.0,1180.8 481.5,1178.4 483.0,1176.0 484.5,1173.7 486.0,1171.4 487.5,1169.2 489.0,1166.9 490.5,1164.7 492.0,1162.6 493.5,1160.4 495.0,1158.3 496.5,1156.3 498.0,1154.2 499.5,1152.2 501.0,1150.3 502.5,1148.4 504.0,1146.5 505.5,1144.6 507.0,1142.8 508.5,1141.0 510.0,1139.3 511.5,1137.6 513.0,1135.9 514.5,1134.3 516.0,1132.7 517.5,1131.1 519.0,1129.6 520.5,1128.1 522.0,1126.6 523.5,1125.2 525.0,1123.9 526.5,1122.5 528.0,1121.2 529.5,1120.0 531.0,1118.8 532.5,1117.6 534.0,1116.5 535.5,1115.4 537.0,1114.3 538.5,1113.3 540.0,1112.3 541.5,1111.3 543.0,1110.4 544.5,1109.6 546.0,1108.7 547.5,1107.9 549.0,1107.2 550.5,1106.5 552.0,1105.8 553.5,1105.2 555.0,1104.6 556.5,1104.0 558.0,1103.5 559.5,1103.0 561.0,1102.5 562.5,1102.1 564.0,1101.7 565.5,1101.4 567.0,1101.1 568.5,1100.8 570.0,1100.6 571.5,1100.4 573.0,1100.2 574.5,1100.1 576.0,1100.0 577.5,1099.9 579.0,1099.9 580.5,1099.9 582.0,1100.0 583.5,1100.0 585.0,1100.1 586.5,1100.3 588.0,1100.5 589.5,1100.7 591.0,1100.9 592.5,1101.2 594.0,1101.5 595.5,1101.8 597.0,1102.2 598.5,1102.6 600.0,1103.0 601.5,1103.5 603.0,1103.9 604.5,1104.5 606.0,1105.0 607.5,1105.6 609.0,1106.2 610.5,1106.8 612.0,1107.4 613.5,1108.1 615.0,1108.8 616.5,1109.6 618.0,1110.3 619.5,1111.1 621.0,1111.9 622.5,1112.7 624.0,1113.6 625.5,1114.5 627.0,1115.4 628.5,1116.3 630.0,1117.2 631.5,1118.2 633.0,1119.2 634.5,1120.2 636.0,1121.2 637.5,1122.3 639.0,1123.4 640.5,1124.5 642.0,1125.6 643.5,1126.7 645.0,1127.8 646.5,1129.0 648.0,1130.2 649.5,1131.4 651.0,1132.6 652.5,1133.9 654.0,1135.1 655.5,1136.4 657.0,1137.7 658.5,1139.0 660.0,1140.3 661.5,1141.6 663.0,1143.0 664.5,1144.3 666.0,1145.7 667.5,1147.1 669.0,1148.5 670.5,1149.9 672.0,1151.3 673.5,1152.7 675.0,1154.2 676.5,1155.6 678.0,1157.1 679.5,1158.6 681.0,1160.0 682.5,1161.5 684.0,1163.0 685.5,1164.5 687.0,1166.1 688.5,1167.6 690.0,1169.1 691.5,1170.7 693.0,1172.2 694.5,1173.8 696.0,1175.3 697.5,1176.9 699.0,1178.5 700.5,1180.1 702.0,1181.6 703.5,1183.2 705.0,1184.8 706.5,1186.4 708.0,1188.0 709.5,1189.6 711.0,1191.2 712.5,1192.8 714.0,1194.5 715.5,1196.1 717.0,1197.7 718.5,1199.3 720.0,1200.9 721.5,1202.6 723.0,1204.2 724.5,1205.8 726.0,1207.5 727.5,1209.1 729.0,1210.7 730.5,1212.3 732.0,1214.0 733.5,1215.6 735.0,1217.2 736.5,1218.9 738.0,1220.5 739.5,1222.1 741.0,1223.7 742.5,1225.4 744.0,1227.0 745.5,1228.6 747.0,1230.2 748.5,1231.8 750.0,1233.4 751.5,1235.0 753.0,1236.7 754.5,1238.3 756.0,1239.8 757.5,1241.4 759.0,1243.0 760.5,1244.6 762.0,1246.2 763.5,1247.8 765.0,1249.4 766.5,1250.9 768.0,1252.5 769.5,1254.0 771.0,1255.6 772.5,1257.2 774.0,1258.7 775.5,1260.2 777.0,1261.8 778.5,1263.3 780.0,1264.8 781.5,1266.3 783.0,1267.8 784.5,1269.3 786.0,1270.8 787.5,1272.3 789.0,1273.8 790.5,1275.3 792.0,1276.8 793.5,1278.2 795.0,1279.7 796.5,1281.1 798.0,1282.6 799.5,1284.0 801.0,1285.4 802.5,1286.9 804.0,1288.3 805.5,1289.7 807.0,1291.1 808.5,1292.5 810.0,1293.9 811.5,1295.2 813.0,1296.6 814.5,1298.0 816.0,1299.3 817.5,1300.7 819.0,1302.0 820.5,1303.3 822.0,1304.6 823.5,1306.0 825.0,1307.3 826.5,1308.6 828.0,1309.8 829.5,1311.1 831.0,1312.4 832.5,1313.6 834.0,1314.9 835.5,1316.1 837.0,1317.4 838.5,1318.6 840.0,1319.8 841.5,1321.0 843.0,1322.2 844.5,1323.4 846.0,1324.6 847.5,1325.8 849.0,1327.0 850.5,1328.1 852.0,1329.3 853.5,1330.4 855.0,1331.5 856.5,1332.7 858.0,1333.8 859.5,1334.9 861.0,1336.0 862.5,1337.1 864.0,1338.2 865.5,1339.2 867.0,1340.3 868.5,1341.3 870.0,1342.4 871.5,1343.4 873.0,1344.5 874.5,1345.5 876.0,1346.5 877.5,1347.5 879.0,1348.5 880.5,1349.5 882.0,1350.5 883.5,1351.4 885.0,1352.4 886.5,1353.3 888.0,1354.3 889.5,1355.2 891.0,1356.1 892.5,1357.1 894.0,1358.0 895.5,1358.9 897.0,1359.8 898.5,1360.6 900.0,1361.5 901.5,1362.4 903.0,1363.2 904.5,1364.1 906.0,1364.9 907.5,1365.8 909.0,1366.6 910.5,1367.4 912.0,1368.2 913.5,1369.0 915.0,1369.8 916.5,1370.6 918.0,1371.4 919.5,1372.2 921.0,1372.9 922.5,1373.7 924.0,1374.5 925.5,1375.2 927.0,1375.9 928.5,1376.7 930.0,1377.4 931.5,1378.1 933.0,1378.8 934.5,1379.5 936.0,1380.2 937.5,1380.9 939.0,1381.5 940.5,1382.2 942.0,1382.9 943.5,1383.5 945.0,1384.2 946.5,1384.8 948.0,1385.4 949.5,1386.1 951.0,1386.7 952.5,1387.3 954.0,1387.9 955.5,1388.5 957.0,1389.1 958.5,1389.7 960.0,1390.3 961.5,1390.8 963.0,1391.4 964.5,1392.0 966.0,1392.5 967.5,1393.1 969.0,1393.6 970.5,1394.2 972.0,1394.7 973.5,1395.2 975.0,1395.7 976.5,1396.2 978.0,1396.7 979.5,1397.2 981.0,1397.7 982.5,1398.2 984.0,1398.7 985.5,1399.2 987.0,1399.7 988.5,1400.1 990.0,1400.6 991.5,1401.0 993.0,1401.5 994.5,1401.9 996.0,1402.4 997.5,1402.8 999.0,1403.2 1000.5,1403.6 1002.0,1404.1 1003.5,1404.5 1005.0,1404.9 1006.5,1405.3 1008.0,1405.7 1009.5,1406.1 1011.0,1406.5 1012.5,1406.8 1014.0,1407.2 1015.5,1407.6 1017.0,1408.0 1018.5,1408.3 1020.0,1408.7 1021.5,1409.0 1023.0,1409.4 1024.5,1409.7 1026.0,1410.1 1027.5,1410.4 1029.0,1410.7 1030.5,1411.1 1032.0,1411.4 1033.5,1411.7 1035.0,1412.0 1036.5,1412.3 1038.0,1412.6 1039.5,1412.9 1041.0,1413.2 1042.5,1413.5 1044.0,1413.8 1045.5,1414.1 1047.0,1414.4 1048.5,1414.7 1050.0,1415.0 1051.5,1415.2 1053.0,1415.5 1054.5,1415.8 1056.0,1416.0 1057.5,1416.3 1059.0,1416.5 1060.5,1416.8 1062.0,1417.0 1063.5,1417.3 1065.0,1417.5 1066.5,1417.8 1068.0,1418.0 1069.5,1418.2 1071.0,1418.4 1072.5,1418.7 1074.0,1418.9 1075.5,1419.1 1077.0,1419.3 1078.5,1419.5 1080.0,1419.7 1081.5,1420.0 1083.0,1420.2 1084.5,1420.4 1086.0,1420.6 1087.5,1420.8 1089.0,1420.9 1090.5,1421.1 1092.0,1421.3 1093.5,1421.5 1095.0,1421.7 1096.5,1421.9 1098.0,1422.0 1099.5,1422.2 1101.0,1422.4 1102.5,1422.6 1104.0,1422.7 1105.5,1422.9 1107.0,1423.0 1108.5,1423.2 1110.0,1423.4 1111.5,1423.5 1113.0,1423.7 1114.5,1423.8 1116.0,1424.0 1117.5,1424.1 1119.0,1424.3 1120.5,1424.4 1122.0,1424.5 1123.5,1424.7 1125.0,1424.8 1126.5,1424.9 1128.0,1425.1 1129.5,1425.2 1131.0,1425.3 1132.5,1425.5 1134.0,1425.6 1135.5,1425.7 1137.0,1425.8 1138.5,1425.9 1140.0,1426.1 1141.5,1426.2 1143.0,1426.3 1144.5,1426.4 1146.0,1426.5 1147.5,1426.6 1149.0,1426.7 1150.5,1426.8 1152.0,1426.9 1153.5,1427.0 1155.0,1427.1 1156.5,1427.2 1158.0,1427.3 1159.5,1427.4 1161.0,1427.5 1162.5,1427.6 1164.0,1427.7 1165.5,1427.8 1167.0,1427.9 1168.5,1428.0 1170.0,1428.0 1171.5,1428.1 1173.0,1428.2 1174.5,1428.3 1176.0,1428.4 1177.5,1428.5 1179.0,1428.5"/><path fill="#ff0000" d="M273.3,1393.5L311.6,1393.5L292.4,1359.1ZM291.2,1060.8L329.5,1060.8L310.4,1026.4ZM309.1,595.0L347.4,595.0L328.2,560.6ZM327.0,280.1L365.3,280.1L346.1,245.7ZM344.9,225.5L383.2,225.5L364.1,191.1ZM362.8,368.3L401.1,368.3L381.9,333.9ZM380.7,633.0L419.0,633.0L399.9,598.6ZM398.6,893.6L436.9,893.6L417.8,859.2ZM416.5,1105.0L454.8,1105.0L435.6,1070.6ZM434.4,1256.7L472.7,1256.7L453.6,1222.3ZM452.3,1342.3L490.6,1342.3L471.5,1307.9ZM470.2,1393.9L508.5,1393.9L489.4,1359.5ZM488.1,1422.2L526.4,1422.2L507.2,1387.8ZM506.0,1433.1L544.3,1433.1L525.1,1398.7ZM523.9,1439.9L562.2,1439.9L543.0,1405.5ZM541.8,1441.2L580.1,1441.2L561.0,1406.8ZM559.7,1443.9L598.0,1443.9L578.9,1409.5Z"/><path fill="#00ff00" d="M279.5,1406.9h28.3v28.3h-28.3ZM303.4,1329.7h28.3v28.3h-28.3ZM327.2,1186.7h28.3v28.3h-28.3ZM351.1,1033.4h28.3v28.3h-28.3ZM375.0,905.0h28.3v28.3h-28.3ZM398.9,807.9h28.3v28.3h-28.3ZM422.7,790.0h28.3v28.3h-28.3ZM446.6,826.5h28.3v28.3h-28.3ZM470.5,892.0h28.3v28.3h-28.3ZM494.3,987.0h28.3v28.3h-28.3ZM518.2,1088.9h28.3v28.3h-28.3ZM542.1,1168.8h28.3v28.3h-28.3ZM565.9,1238.4h28.3v28.3h-28.3ZM589.8,1282.8h28.3v28.3h-28.3ZM613.7,1324.8h28.3v28.3h-28.3ZM637.6,1356.4h28.3v28.3h-28.3ZM661.4,1380.1h28.3v28.3h-28.3ZM685.3,1396.8h28.3v28.3h-28.3ZM709.2,1403.8h28.3v28.3h-28.3ZM733.0,1409.6h28.3v28.3h-28.3ZM756.9,1412.7h28.3v28.3h-28.3Z"/><path fill="#0000ff" d="M279.3,1415.1L317.6,1415.1L298.4,1448.6ZM309.1,1368.8L347.4,1368.8L328.2,1402.3ZM338.9,1290.6L377.2,1290.6L358.1,1324.1ZM368.8,1193.3L407.1,1193.3L387.9,1226.8ZM398.6,1100.5L436.9,1100.5L417.8,1134.0ZM428.4,1019.1L466.7,1019.1L447.6,1052.6ZM458.3,975.0L496.6,975.0L477.4,1008.5ZM488.1,968.8L526.4,968.8L507.2,1002.3ZM517.9,997.0L556.2,997.0L537.1,1030.5ZM547.8,1034.9L586.1,1034.9L566.9,1068.4ZM577.6,1090.7L615.9,1090.7L596.8,1124.2ZM607.4,1159.6L645.7,1159.6L626.6,1193.1ZM637.3,1226.4L675.6,1226.4L656.4,1259.9ZM667.1,1271.2L705.4,1271.2L686.2,1304.7ZM696.9,1313.2L735.2,1313.2L716.1,1346.7ZM726.8,1344.2L765.1,1344.2L745.9,1377.7ZM756.6,1365.8L794.9,1365.8L775.8,1399.3ZM786.4,1385.6L824.7,1385.6L805.6,1419.1ZM816.3,1397.4L854.6,1397.4L835.4,1430.9ZM846.1,1406.4L884.4,1406.4L865.2,1439.9ZM875.9,1410.0L914.2,1410.0L895.1,1443.5ZM905.8,1413.6L944.1,1413.6L924.9,1447.1ZM935.6,1416.3L973.9,1416.3L954.8,1449.8ZM965.4,1417.9L1003.7,1417.9L984.6,1451.4ZM995.3,1418.6L1033.6,1418.6L1014.4,1452.1ZM1025.1,1419.2L1063.4,1419.2L1044.2,1452.7ZM1054.9,1419.9L1093.2,1419.9L1074.1,1453.4ZM1084.8,1419.9L1123.1,1419.9L1103.9,1453.4ZM1114.6,1420.6L1152.9,1420.6L1133.8,1454.1ZM1144.4,1420.6L1182.7,1420.6L1163.6,1454.1Z"/><path fill="#ff00ff" d="M309.1,1407.2L329.3,1427.4L309.1,1447.6L288.9,1427.4ZM360.2,1368.5L380.4,1388.7L360.2,1408.9L340.0,1388.7ZM411.4,1288.4L431.6,1308.6L411.4,1328.8L391.2,1308.6ZM462.5,1197.7L482.7,1217.9L462.5,1238.1L442.3,1217.9ZM513.6,1118.0L533.8,1138.2L513.6,1158.4L493.4,1138.2ZM564.8,1078.1L585.0,1098.3L564.8,1118.5L544.6,1098.3ZM615.9,1087.7L636.1,1107.9L615.9,1128.1L595.7,1107.9ZM667.1,1131.1L687.3,1151.3L667.1,1171.5L646.9,1151.3ZM718.2,1178.6L738.4,1198.8L718.2,1219.0L698.0,1198.8ZM769.4,1231.7L789.6,1251.9L769.4,1272.1L749.2,1251.9ZM820.5,1286.9L840.7,1307.1L820.5,1327.3L800.3,1307.1ZM871.6,1324.0L891.8,1344.2L871.6,1364.4L851.4,1344.2ZM922.8,1352.8L943.0,1373.0L922.8,1393.2L902.6,1373.0ZM973.9,1374.4L994.1,1394.6L973.9,1414.8L953.7,1394.6ZM1025.1,1387.1L1045.3,1407.3L1025.1,1427.5L1004.9,1407.3ZM1076.2,1398.5L1096.4,1418.7L1076.2,1438.9L1056.0,1418.7ZM1127.4,1402.8L1147.6,1423.0L1127.4,1443.2L1107.2,1423.0ZM1178.5,1411.4L1198.7,1431.6L1178.5,1451.8L1158.3,1431.6Z"/></g>
<g fill="none" stroke="#000" stroke-width="7.0"><path stroke-linecap="square" d="M1169.0,55.5H2055.8M1169.0,1433.0H2055.8M1169.0,55.5V1433.0M2055.8,55.5V1433.0"/><path stroke-linecap="round" d="M1169.00,1433.00L1169.00,1459.50M1169.00,55.50L1169.00,30.50M1257.68,1433.00L1257.68,1446.50M1257.68,55.50L1257.68,43.00M1346.36,1433.00L1346.36,1459.50M1346.36,55.50L1346.36,30.50M1435.04,1433.00L1435.04,1446.50M1435.04,55.50L1435.04,43.00M1523.72,1433.00L1523.72,1459.50M1523.72,55.50L1523.72,30.50M1612.40,1433.00L1612.40,1446.50M1612.40,55.50L1612.40,43.00M1701.08,1433.00L1701.08,1459.50M1701.08,55.50L1701.08,30.50M1789.76,1433.00L1789.76,1446.50M1789.76,55.50L1789.76,43.00M1878.44,1433.00L1878.44,1459.50M1878.44,55.50L1878.44,30.50M1967.12,1433.00L1967.12,1446.50M1967.12,55.50L1967.12,43.00M2055.80,1433.00L2055.80,1459.50M2055.80,55.50L2055.80,30.50M1169.00,1433.00L1142.50,1433.00M2055.80,1433.00L2082.30,1433.00M1169.00,1334.61L1155.50,1334.61M2055.80,1334.61L2069.30,1334.61M1169.00,1236.21L1142.50,1236.21M2055.80,1236.21L2082.30,1236.21M1169.00,1137.82L1155.50,1137.82M2055.80,1137.82L2069.30,1137.82M1169.00,1039.43L1142.50,1039.43M2055.80,1039.43L2082.30,1039.43M1169.00,941.04L1155.50,941.04M2055.80,941.04L2069.30,941.04M1169.00,842.64L1142.50,842.64M2055.80,842.64L2082.30,842.64M1169.00,744.25L1155.50,744.25M2055.80,744.25L2069.30,744.25M1169.00,645.86L1142.50,645.86M2055.80,645.86L2082.30,645.86M1169.00,547.46L1155.50,547.46M2055.80,547.46L2069.30,547.46M1169.00,449.07L1142.50,449.07M2055.80,449.07L2082.30,449.07M1169.00,350.68L1155.50,350.68M2055.80,350.68L2069.30,350.68M1169.00,252.29L1142.50,252.29M2055.80,252.29L2082.30,252.29M1169.00,153.89L1155.50,153.89M2055.80,153.89L2069.30,153.89M1169.00,55.50L1142.50,55.50M2055.80,55.50L2082.30,55.50"/></g>
<g clip-path="url(#cb)" shape-rendering="crispEdges"><polyline fill="none" stroke="#ff0000" stroke-width="7.2" stroke-linejoin="round" points="1169.0,1433.0 1170.5,1432.0 1172.0,1429.1 1173.5,1424.4 1175.0,1417.8 1176.5,1409.5 1178.0,1399.5 1179.5,1387.8 1181.0,1374.5 1182.5,1359.7 1184.0,1343.3 1185.5,1325.5 1187.0,1306.3 1188.5,1285.8 1190.0,1264.1 1191.5,1241.2 1193.0,1217.3 1194.5,1192.3 1196.0,1166.5 1197.5,1139.7 1199.0,1112.3 1200.5,1084.2 1202.0,1055.5 1203.5,1026.3 1205.0,996.7 1206.5,966.8 1208.0,936.6 1209.5,906.3 1211.0,875.9 1212.5,845.6 1214.0,815.4 1215.5,785.3 1217.0,755.5 1218.5,726.0 1220.0,697.0 1221.5,668.4 1223.0,640.4 1224.5,613.0 1226.0,586.2 1227.5,560.2 1229.0,535.0 1230.5,510.7 1232.0,487.2 1233.5,464.7 1235.0,443.1 1236.5,422.6 1238.0,403.1 1239.5,384.8 1241.0,367.5 1242.5,351.4 1244.0,336.4 1245.5,322.6 1247.0,310.0 1248.5,298.7 1250.0,288.5 1251.5,279.5 1253.0,271.8 1254.5,265.2 1256.0,259.9 1257.5,255.8 1259.0,252.8 1260.5,251.0 1262.0,250.4 1263.5,250.9 1265.0,252.5 1266.5,255.2 1268.0,259.0 1269.5,263.8 1271.0,269.6 1272.5,276.4 1274.0,284.1 1275.5,292.7 1277.0,302.3 1278.5,312.6 1280.0,323.7 1281.5,335.7 1283.0,348.3 1284.5,361.6 1286.0,375.6 1287.5,390.2 1289.0,405.3 1290.5,421.0 1292.0,437.1 1293.5,453.8 1295.0,470.8 1296.5,488.2 1298.0,505.9 1299.5,524.0 1301.0,542.3 1302.5,560.8 1304.0,579.5 1305.5,598.4 1307.0,617.4 1308.5,636.5 1310.0,655.6 1311.5,674.8 1313.0,694.0 1314.5,713.1 1316.0,732.2 1317.5,751.2 1319.0,770.2 1320.5,789.0 1322.0,807.6 1323.5,826.1 1325.0,844.3 1326.5,862.4 1328.0,880.3 1329.5,897.9 1331.0,915.2 1332.5,932.3 1334.0,949.1 1335.5,965.6 1337.0,981.8 1338.5,997.7 1340.0,1013.2 1341.5,1028.5 1343.0,1043.4 1344.5,1058.0 1346.0,1072.2 1347.5,1086.0 1349.0,1099.6 1350.5,1112.7 1352.0,1125.6 1353.5,1138.0 1355.0,1150.1 1356.5,1161.9 1358.0,1173.3 1359.5,1184.4 1361.0,1195.1 1362.5,1205.5 1364.0,1215.5 1365.5,1225.2 1367.0,1234.6 1368.5,1243.6 1370.0,1252.4 1371.5,1260.8 1373.0,1268.9 1374.5,1276.7 1376.0,1284.2 1377.5,1291.4 1379.0,1298.4 1380.5,1305.0 1382.0,1311.4 1383.5,1317.6 1385.0,1323.4 1386.5,1329.1 1388.0,1334.4 1389.5,1339.6 1391.0,1344.5 1392.5,1349.2 1394.0,1353.7 1395.5,1358.0 1397.0,1362.1 1398.5,1366.0 1400.0,1369.8 1401.5,1373.3 1403.0,1376.7 1404.5,1379.9 1406.0,1382.9 1407.5,1385.8 1409.0,1388.6 1410.5,1391.2 1412.0,1393.6 1413.5,1396.0 1415.0,1398.2 1416.5,1400.3 1418.0,1402.3 1419.5,1404.2 1421.0,1406.0 1422.5,1407.6 1424.0,1409.2 1425.5,1410.7 1427.0,1412.1 1428.5,1413.5 1430.0,1414.7 1431.5,1415.9 1433.0,1417.0 1434.5,1418.1 1436.0,1419.1 1437.5,1420.0 1439.0,1420.9 1440.5,1421.7 1442.0,1422.4 1443.5,1423.2 1445.0,1423.8 1446.5,1424.5 1448.0,1425.1 1449.5,1425.6 1451.0,1426.1 1452.5,1426.6 1454.0,1427.1 1455.5,1427.5 1457.0,1427.9 1458.5,1428.3 1460.0,1428.6 1461.5,1428.9 1463.0,1429.2 1464.5,1429.5 1466.0,1429.8 1467.5,1430.0 1469.0,1430.2 1470.5,1430.4 1472.0,1430.6 1473.5,1430.8 1475.0,1431.0 1476.5,1431.1 1478.0,1431.3 1479.5,1431.4 1481.0,1431.5 1482.5,1431.7 1484.0,1431.8 1485.5,1431.9 1487.0,1432.0 1488.5,1432.0 1490.0,1432.1 1491.5,1432.2 1493.0,1432.3 1494.5,1432.3 1496.0,1432.4 1497.5,1432.4 1499.0,1432.5 1500.5,1432.5 1502.0,1432.6 1503.5,1432.6 1505.0,1432.6 1506.5,1432.7 1508.0,1432.7 1509.5,1432.7 1511.0,1432.7 1512.5,1432.8 1514.0,1432.8 1515.5,1432.8 1517.0,1432.8 1518.5,1432.8 1520.0,1432.8 1521.5,1432.9 1523.0,1432.9 1524.5,1432.9 1526.0,1432.9 1527.5,1432.9 1529.0,1432.9 1530.5,1432.9 1532.0,1432.9 1533.5,1432.9 1535.0,1432.9 1536.5,1432.9 1538.0,1433.0 1539.5,1433.0 1541.0,1433.0 1542.5,1433.0 1544.0,1433.0 1545.5,1433.0 1547.0,1433.0 1548.5,1433.0 1550.0,1433.0 1551.5,1433.0 1553.0,1433.0 1554.5,1433.0 1556.0,1433.0 1557.5,1433.0 1559.0,1433.0 1560.5,1433.0 1562.0,1433.0 1563.5,1433.0 1565.0,1433.0 1566.5,1433.0 1568.0,1433.0 1569.5,1433.0 1571.0,1433.0 1572.5,1433.0 1574.0,1433.0 1575.5,1433.0 1577.0,1433.0 1578.5,1433.0 1580.0,1433.0 1581.5,1433.0 1583.0,1433.0 1584.5,1433.0 1586.0,1433.0 1587.5,1433.0 1589.0,1433.0 1590.5,1433.0 1592.0,1433.0 1593.5,1433.0 1595.0,1433.0 1596.5,1433.0 1598.0,1433.0 1599.5,1433.0 1601.0,1433.0 1602.5,1433.0 1604.0,1433.0 1605.5,1433.0 1607.0,1433.0 1608.5,1433.0 1610.0,1433.0 1611.5,1433.0 1613.0,1433.0 1614.5,1433.0 1616.0,1433.0 1617.5,1433.0 1619.0,1433.0 1620.5,1433.0 1622.0,1433.0 1623.5,1433.0 1625.0,1433.0 1626.5,1433.0 1628.0,1433.0 1629.5,1433.0 1631.0,1433.0 1632.5,1433.0 1634.0,1433.0 1635.5,1433.0 1637.0,1433.0 1638.5,1433.0 1640.0,1433.0 1641.5,1433.0 1643.0,1433.0 1644.5,1433.0 1646.0,1433.0 1647.5,1433.0 1649.0,1433.0 1650.5,1433.0 1652.0,1433.0 1653.5,1433.0 1655.0,1433.0 1656.5,1433.0 1658.0,1433.0 1659.5,1433.0 1661.0,1433.0 1662.5,1433.0 1664.0,1433.0 1665.5,1433.0 1667.0,1433.0 1668.5,1433.0 1670.0,1433.0 1671.5,1433.0 1673.0,1433.0 1674.5,1433.0 1676.0,1433.0 1677.5,1433.0 1679.0,1433.0 1680.5,1433.0 1682.0,1433.0 1683.5,1433.0 1685.0,1433.0 1686.5,1433.0 1688.0,1433.0 1689.5,1433.0 1691.0,1433.0 1692.5,1433.0 1694.0,1433.0 1695.5,1433.0 1697.0,1433.0 1698.5,1433.0 1700.0,1433.0 1701.5,1433.0 1703.0,1433.0 1704.5,1433.0 1706.0,1433.0 1707.5,1433.0 1709.0,1433.0 1710.5,1433.0 1712.0,1433.0 1713.5,1433.0 1715.0,1433.0 1716.5,1433.0 1718.0,1433.0 1719.5,1433.0 1721.0,1433.0 1722.5,1433.0 1724.0,1433.0 1725.5,1433.0 1727.0,1433.0 1728.5,1433.0 1730.0,1433.0 1731.5,1433.0 1733.0,1433.0 1734.5,1433.0 1736.0,1433.0 1737.5,1433.0 1739.0,1433.0 1740.5,1433.0 1742.0,1433.0 1743.5,1433.0 1745.0,1433.0 1746.5,1433.0 1748.0,1433.0 1749.5,1433.0 1751.0,1433.0 1752.5,1433.0 1754.0,1433.0 1755.5,1433.0 1757.0,1433.0 1758.5,1433.0 1760.0,1433.0 1761.5,1433.0 1763.0,1433.0 1764.5,1433.0 1766.0,1433.0 1767.5,1433.0 1769.0,1433.0 1770.5,1433.0 1772.0,1433.0 1773.5,1433.0 1775.0,1433.0 1776.5,1433.0 1778.0,1433.0 1779.5,1433.0 1781.0,1433.0 1782.5,1433.0 1784.0,1433.0 1785.5,1433.0 1787.0,1433.0 1788.5,1433.0 1790.0,1433.0 1791.5,1433.0 1793.0,1433.0 1794.5,1433.0 1796.0,1433.0 1797.5,1433.0 1799.0,1433.0 1800.5,1433.0 1802.0,1433.0 1803.5,1433.0 1805.0,1433.0 1806.5,1433.0 1808.0,1433.0 1809.5,1433.0 1811.0,1433.0 1812.5,1433.0 1814.0,1433.0 1815.5,1433.0 1817.0,1433.0 1818.5,1433.0 1820.0,1433.0 1821.5,1433.0 1823.0,1433.0 1824.5,1433.0 1826.0,1433.0 1827.5,1433.0 1829.0,1433.0 1830.5,1433.0 1832.0,1433.0 1833.5,1433.0 1835.0,1433.0 1836.5,1433.0 1838.0,1433.0 1839.5,1433.0 1841.0,1433.0 1842.5,1433.0 1844.0,1433.0 1845.5,1433.0 1847.0,1433.0 1848.5,1433.0 1850.0,1433.0 1851.5,1433.0 1853.0,1433.0 1854.5,1433.0 1856.0,1433.0 1857.5,1433.0 1859.0,1433.0 1860.5,1433.0 1862.0,1433.0 1863.5,1433.0 1865.0,1433.0 1866.5,1433.0 1868.0,1433.0 1869.5,1433.0 1871.0,1433.0 1872.5,1433.0 1874.0,1433.0 1875.5,1433.0 1877.0,1433.0 1878.5,1433.0 1880.0,1433.0 1881.5,1433.0 1883.0,1433.0 1884.5,1433.0 1886.0,1433.0 1887.5,1433.0 1889.0,1433.0 1890.5,1433.0 1892.0,1433.0 1893.5,1433.0 1895.0,1433.0 1896.5,1433.0 1898.0,1433.0 1899.5,1433.0 1901.0,1433.0 1902.5,1433.0 1904.0,1433.0 1905.5,1433.0 1907.0,1433.0 1908.5,1433.0 1910.0,1433.0 1911.5,1433.0 1913.0,1433.0 1914.5,1433.0 1916.0,1433.0 1917.5,1433.0 1919.0,1433.0 1920.5,1433.0 1922.0,1433.0 1923.5,1433.0 1925.0,1433.0 1926.5,1433.0 1928.0,1433.0 1929.5,1433.0 1931.0,1433.0 1932.5,1433.0 1934.0,1433.0 1935.5,1433.0 1937.0,1433.0 1938.5,1433.0 1940.0,1433.0 1941.5,1433.0 1943.0,1433.0 1944.5,1433.0 1946.0,1433.0 1947.5,1433.0 1949.0,1433.0 1950.5,1433.0 1952.0,1433.0 1953.5,1433.0 1955.0,1433.0 1956.5,1433.0 1958.0,1433.0 1959.5,1433.0 1961.0,1433.0 1962.5,1433.0 1964.0,1433.0 1965.5,1433.0 1967.0,1433.0 1968.5,1433.0 1970.0,1433.0 1971.5,1433.0 1973.0,1433.0 1974.5,1433.0 1976.0,1433.0 1977.5,1433.0 1979.0,1433.0 1980.5,1433.0 1982.0,1433.0 1983.5,1433.0 1985.0,1433.0 1986.5,1433.0 1988.0,1433.0 1989.5,1433.0 1991.0,1433.0 1992.5,1433.0 1994.0,1433.0 1995.5,1433.0 1997.0,1433.0 1998.5,1433.0 2000.0,1433.0 2001.5,1433.0 2003.0,1433.0 2004.5,1433.0 2006.0,1433.0 2007.5,1433.0 2009.0,1433.0 2010.5,1433.0 2012.0,1433.0 2013.5,1433.0 2015.0,1433.0 2016.5,1433.0 2018.0,1433.0 2019.5,1433.0 2021.0,1433.0 2022.5,1433.0 2024.0,1433.0 2025.5,1433.0 2027.0,1433.0 2028.5,1433.0 2030.0,1433.0 2031.5,1433.0 2033.0,1433.0 2034.5,1433.0 2036.0,1433.0 2037.5,1433.0 2039.0,1433.0 2040.5,1433.0 2042.0,1433.0 2043.5,1433.0 2045.0,1433.0 2046.5,1433.0 2048.0,1433.0 2049.5,1433.0 2051.0,1433.0 2052.5,1433.0 2054.0,1433.0 2055.5,1433.0 2057.0,1433.0"/><polyline fill="none" stroke="#00ff00" stroke-width="7.2" stroke-linejoin="round" points="1169.0,1433.0 1170.5,1432.1 1172.0,1430.0 1173.5,1426.9 1175.0,1423.0 1176.5,1418.4 1178.0,1413.1 1179.5,1407.1 1181.0,1400.6 1182.5,1393.4 1184.0,1385.7 1185.5,1377.4 1187.0,1368.7 1188.5,1359.4 1190.0,1349.7 1191.5,1339.6 1193.0,1329.1 1194.5,1318.2 1196.0,1306.9 1197.5,1295.3 1199.0,1283.3 1200.5,1271.0 1202.0,1258.5 1203.5,1245.7 1205.0,1232.7 1206.5,1219.4 1208.0,1205.9 1209.5,1192.3 1211.0,1178.5 1212.5,1164.5 1214.0,1150.4 1215.5,1136.2 1217.0,1122.0 1218.5,1107.6 1220.0,1093.3 1221.5,1078.8 1223.0,1064.4 1224.5,1050.0 1226.0,1035.6 1227.5,1021.2 1229.0,1006.9 1230.5,992.7 1232.0,978.6 1233.5,964.5 1235.0,950.6 1236.5,936.9 1238.0,923.3 1239.5,909.8 1241.0,896.5 1242.5,883.5 1244.0,870.6 1245.5,858.0 1247.0,845.6 1248.5,833.4 1250.0,821.5 1251.5,809.9 1253.0,798.5 1254.5,787.5 1256.0,776.7 1257.5,766.3 1259.0,756.1 1260.5,746.3 1262.0,736.9 1263.5,727.7 1265.0,718.9 1266.5,710.5 1268.0,702.4 1269.5,694.7 1271.0,687.3 1272.5,680.4 1274.0,673.8 1275.5,667.6 1277.0,661.7 1278.5,656.3 1280.0,651.2 1281.5,646.5 1283.0,642.2 1284.5,638.3 1286.0,634.8 1287.5,631.6 1289.0,628.9 1290.5,626.5 1292.0,624.5 1293.5,622.9 1295.0,621.7 1296.5,620.8 1298.0,620.3 1299.5,620.2 1301.0,620.5 1302.5,621.0 1304.0,622.0 1305.5,623.3 1307.0,624.9 1308.5,626.9 1310.0,629.2 1311.5,631.8 1313.0,634.8 1314.5,638.0 1316.0,641.6 1317.5,645.4 1319.0,649.6 1320.5,654.0 1322.0,658.7 1323.5,663.7 1325.0,668.9 1326.5,674.4 1328.0,680.1 1329.5,686.0 1331.0,692.2 1332.5,698.6 1334.0,705.2 1335.5,712.0 1337.0,718.9 1338.5,726.1 1340.0,733.5 1341.5,741.0 1343.0,748.6 1344.5,756.4 1346.0,764.4 1347.5,772.5 1349.0,780.7 1350.5,789.0 1352.0,797.4 1353.5,805.9 1355.0,814.5 1356.5,823.2 1358.0,832.0 1359.5,840.8 1361.0,849.7 1362.5,858.6 1364.0,867.6 1365.5,876.6 1367.0,885.7 1368.5,894.7 1370.0,903.8 1371.5,912.9 1373.0,922.0 1374.5,931.1 1376.0,940.2 1377.5,949.2 1379.0,958.3 1380.5,967.3 1382.0,976.3 1383.5,985.2 1385.0,994.1 1386.5,1002.9 1388.0,1011.7 1389.5,1020.5 1391.0,1029.1 1392.5,1037.7 1394.0,1046.3 1395.5,1054.7 1397.0,1063.1 1398.5,1071.4 1400.0,1079.6 1401.5,1087.8 1403.0,1095.8 1404.5,1103.7 1406.0,1111.6 1407.5,1119.3 1409.0,1127.0 1410.5,1134.5 1412.0,1142.0 1413.5,1149.3 1415.0,1156.5 1416.5,1163.7 1418.0,1170.7 1419.5,1177.6 1421.0,1184.3 1422.5,1191.0 1424.0,1197.6 1425.5,1204.0 1427.0,1210.3 1428.5,1216.5 1430.0,1222.6 1431.5,1228.6 1433.0,1234.5 1434.5,1240.2 1436.0,1245.8 1437.5,1251.3 1439.0,1256.7 1440.5,1262.0 1442.0,1267.2 1443.5,1272.2 1445.0,1277.2 1446.5,1282.0 1448.0,1286.7 1449.5,1291.3 1451.0,1295.8 1452.5,1300.2 1454.0,1304.5 1455.5,1308.7 1457.0,1312.7 1458.5,1316.7 1460.0,1320.6 1461.5,1324.3 1463.0,1328.0 1464.5,1331.6 1466.0,1335.1 1467.5,1338.4 1469.0,1341.7 1470.5,1344.9 1472.0,1348.0 1473.5,1351.0 1475.0,1354.0 1476.5,1356.8 1478.0,1359.6 1479.5,1362.2 1481.0,1364.8 1482.5,1367.4 1484.0,1369.8 1485.5,1372.2 1487.0,1374.5 1488.5,1376.7 1490.0,1378.8 1491.5,1380.9 1493.0,1382.9 1494.5,1384.9 1496.0,1386.7 1497.5,1388.6 1499.0,1390.3 1500.5,1392.0 1502.0,1393.7 1503.5,1395.2 1505.0,1396.8 1506.5,1398.2 1508.0,1399.7 1509.5,1401.0 1511.0,1402.4 1512.5,1403.6 1514.0,1404.9 1515.5,1406.1 1517.0,1407.2 1518.5,1408.3 1520.0,1409.4 1521.5,1410.4 1523.0,1411.4 1524.5,1412.3 1526.0,1413.2 1527.5,1414.1 1529.0,1414.9 1530.5,1415.7 1532.0,1416.5 1533.5,1417.2 1535.0,1417.9 1536.5,1418.6 1538.0,1419.3 1539.5,1419.9 1541.0,1420.5 1542.5,1421.1 1544.0,1421.6 1545.5,1422.2 1547.0,1422.7 1548.5,1423.2 1550.0,1423.6 1551.5,1424.1 1553.0,1424.5 1554.5,1424.9 1556.0,1425.3 1557.5,1425.7 1559.0,1426.0 1560.5,1426.4 1562.0,1426.7 1563.5,1427.0 1565.0,1427.3 1566.5,1427.6 1568.0,1427.9 1569.5,1428.1 1571.0,1428.4 1572.5,1428.6 1574.0,1428.8 1575.5,1429.0 1577.0,1429.3 1578.5,1429.4 1580.0,1429.6 1581.5,1429.8 1583.0,1430.0 1584.5,1430.1 1586.0,1430.3 1587.5,1430.4 1589.0,1430.6 1590.5,1430.7 1592.0,1430.8 1593.5,1430.9 1595.0,1431.0 1596.5,1431.2 1598.0,1431.3 1599.5,1431.3 1601.0,1431.4 1602.5,1431.5 1604.0,1431.6 1605.5,1431.7 1607.0,1431.8 1608.5,1431.8 1610.0,1431.9 1611.5,1432.0 1613.0,1432.0 1614.5,1432.1 1616.0,1432.1 1617.5,1432.2 1619.0,1432.2 1620.5,1432.3 1622.0,1432.3 1623.5,1432.3 1625.0,1432.4 1626.5,1432.4 1628.0,1432.5 1629.5,1432.5 1631.0,1432.5 1632.5,1432.5 1634.0,1432.6 1635.5,1432.6 1637.0,1432.6 1638.5,1432.6 1640.0,1432.7 1641.5,1432.7 1643.0,1432.7 1644.5,1432.7 1646.0,1432.7 1647.5,1432.8 1649.0,1432.8 1650.5,1432.8 1652.0,1432.8 1653.5,1432.8 1655.0,1432.8 1656.5,1432.8 1658.0,1432.8 1659.5,1432.9 1661.0,1432.9 1662.5,1432.9 1664.0,1432.9 1665.5,1432.9 1667.0,1432.9 1668.5,1432.9 1670.0,1432.9 1671.5,1432.9 1673.0,1432.9 1674.5,1432.9 1676.0,1432.9 1677.5,1432.9 1679.0,1432.9 1680.5,1432.9 1682.0,1432.9 1683.5,1433.0 1685.0,1433.0 1686.5,1433.0 1688.0,1433.0 1689.5,1433.0 1691.0,1433.0 1692.5,1433.0 1694.0,1433.0 1695.5,1433.0 1697.0,1433.0 1698.5,1433.0 1700.0,1433.0 1701.5,1433.0 1703.0,1433.0 1704.5,1433.0 1706.0,1433.0 1707.5,1433.0 1709.0,1433.0 1710.5,1433.0 1712.0,1433.0 1713.5,1433.0 1715.0,1433.0 1716.5,1433.0 1718.0,1433.0 1719.5,1433.0 1721.0,1433.0 1722.5,1433.0 1724.0,1433.0 1725.5,1433.0 1727.0,1433.0 1728.5,1433.0 1730.0,1433.0 1731.5,1433.0 1733.0,1433.0 1734.5,1433.0 1736.0,1433.0 1737.5,1433.0 1739.0,1433.0 1740.5,1433.0 1742.0,1433.0 1743.5,1433.0 1745.0,1433.0 1746.5,1433.0 1748.0,1433.0 1749.5,1433.0 1751.0,1433.0 1752.5,1433.0 1754.0,1433.0 1755.5,1433.0 1757.0,1433.0 1758.5,1433.0 1760.0,1433.0 1761.5,1433.0 1763.0,1433.0 1764.5,1433.0 1766.0,1433.0 1767.5,1433.0 1769.0,1433.0 1770.5,1433.0 1772.0,1433.0 1773.5,1433.0 1775.0,1433.0 1776.5,1433.0 1778.0,1433.0 1779.5,1433.0 1781.0,1433.0 1782.5,1433.0 1784.0,1433.0 1785.5,1433.0 1787.0,1433.0 1788.5,1433.0 1790.0,1433.0 1791.5,1433.0 1793.0,1433.0 1794.5,1433.0 1796.0,1433.0 1797.5,1433.0 1799.0,1433.0 1800.5,1433.0 1802.0,1433.0 1803.5,1433.0 1805.0,1433.0 1806.5,1433.0 1808.0,1433.0 1809.5,1433.0 1811.0,1433.0 1812.5,1433.0 1814.0,1433.0 1815.5,1433.0 1817.0,1433.0 1818.5,1433.0 1820.0,1433.0 1821.5,1433.0 1823.0,1433.0 1824.5,1433.0 1826.0,1433.0 1827.5,1433.0 1829.0,1433.0 1830.5,1433.0 1832.0,1433.0 1833.5,1433.0 1835.0,1433.0 1836.5,1433.0 1838.0,1433.0 1839.5,1433.0 1841.0,1433.0 1842.5,1433.0 1844.0,1433.0 1845.5,1433.0 1847.0,1433.0 1848.5,1433.0 1850.0,1433.0 1851.5,1433.0 1853.0,1433.0 1854.5,1433.0 1856.0,1433.0 1857.5,1433.0 1859.0,1433.0 1860.5,1433.0 1862.0,1433.0 1863.5,1433.0 1865.0,1433.0 1866.5,1433.0 1868.0,1433.0 1869.5,1433.0 1871.0,1433.0 1872.5,1433.0 1874.0,1433.0 1875.5,1433.0 1877.0,1433.0 1878.5,1433.0 1880.0,1433.0 1881.5,1433.0 1883.0,1433.0 1884.5,1433.0 1886.0,1433.0 1887.5,1433.0 1889.0,1433.0 1890.5,1433.0 1892.0,1433.0 1893.5,1433.0 1895.0,1433.0 1896.5,1433.0 1898.0,1433.0 1899.5,1433.0 1901.0,1433.0 1902.5,1433.0 1904.0,1433.0 1905.5,1433.0 1907.0,1433.0 1908.5,1433.0 1910.0,1433.0 1911.5,1433.0 1913.0,1433.0 1914.5,1433.0 1916.0,1433.0 1917.5,1433.0 1919.0,1433.0 1920.5,1433.0 1922.0,1433.0 1923.5,1433.0 1925.0,1433.0 1926.5,1433.0 1928.0,1433.0 1929.5,1433.0 1931.0,1433.0 1932.5,1433.0 1934.0,1433.0 1935.5,1433.0 1937.0,1433.0 1938.5,1433.0 1940.0,1433.0 1941.5,1433.0 1943.0,1433.0 1944.5,1433.0 1946.0,1433.0 1947.5,1433.0 1949.0,1433.0 1950.5,1433.0 1952.0,1433.0 1953.5,1433.0 1955.0,1433.0 1956.5,1433.0 1958.0,1433.0 1959.5,1433.0 1961.0,1433.0 1962.5,1433.0 1964.0,1433.0 1965.5,1433.0 1967.0,1433.0 1968.5,1433.0 1970.0,1433.0 1971.5,1433.0 1973.0,1433.0 1974.5,1433.0 1976.0,1433.0 1977.5,1433.0 1979.0,1433.0 1980.5,1433.0 1982.0,1433.0 1983.5,1433.0 1985.0,1433.0 1986.5,1433.0 1988.0,1433.0 1989.5,1433.0 1991.0,1433.0 1992.5,1433.0 1994.0,1433.0 1995.5,1433.0 1997.0,1433.0 1998.5,1433.0 2000.0,1433.0 2001.5,1433.0 2003.0,1433.0 2004.5,1433.0 2006.0,1433.0 2007.5,1433.0 2009.0,1433.0 2010.5,1433.0 2012.0,1433.0 2013.5,1433.0 2015.0,1433.0 2016.5,1433.0 2018.0,1433.0 2019.5,1433.0 2021.0,1433.0 2022.5,1433.0 2024.0,1433.0 2025.5,1433.0 2027.0,1433.0 2028.5,1433.0 2030.0,1433.0 2031.5,1433.0 2033.0,1433.0 2034.5,1433.0 2036.0,1433.0 2037.5,1433.0 2039.0,1433.0 2040.5,1433.0 2042.0,1433.0 2043.5,1433.0 2045.0,1433.0 2046.5,1433.0 2048.0,1433.0 2049.5,1433.0 2051.0,1433.0 2052.5,1433.0 2054.0,1433.0 2055.5,1433.0 2057.0,1433.0"/><polyline fill="none" stroke="#0000ff" stroke-width="7.2" stroke-linejoin="round" points="1169.0,1433.0 1170.5,1432.6 1172.0,1431.7 1173.5,1430.3 1175.0,1428.4 1176.5,1426.2 1178.0,1423.6 1179.5,1420.7 1181.0,1417.5 1182.5,1413.9 1184.0,1410.0 1185.5,1405.9 1187.0,1401.4 1188.5,1396.7 1190.0,1391.8 1191.5,1386.6 1193.0,1381.2 1194.5,1375.6 1196.0,1369.8 1197.5,1363.8 1199.0,1357.6 1200.5,1351.2 1202.0,1344.7 1203.5,1338.0 1205.0,1331.2 1206.5,1324.2 1208.0,1317.2 1209.5,1310.0 1211.0,1302.6 1212.5,1295.2 1214.0,1287.7 1215.5,1280.1 1217.0,1272.5 1218.5,1264.7 1220.0,1257.0 1221.5,1249.1 1223.0,1241.2 1224.5,1233.3 1226.0,1225.4 1227.5,1217.4 1229.0,1209.4 1230.5,1201.4 1232.0,1193.4 1233.5,1185.5 1235.0,1177.5 1236.5,1169.5 1238.0,1161.6 1239.5,1153.7 1241.0,1145.9 1242.5,1138.0 1244.0,1130.3 1245.5,1122.5 1247.0,1114.9 1248.5,1107.3 1250.0,1099.7 1251.5,1092.3 1253.0,1084.9 1254.5,1077.6 1256.0,1070.4 1257.5,1063.3 1259.0,1056.2 1260.5,1049.3 1262.0,1042.5 1263.5,1035.7 1265.0,1029.1 1266.5,1022.6 1268.0,1016.2 1269.5,1009.9 1271.0,1003.7 1272.5,997.7 1274.0,991.8 1275.5,986.0 1277.0,980.3 1278.5,974.8 1280.0,969.3 1281.5,964.1 1283.0,958.9 1284.5,953.9 1286.0,949.1 1287.5,944.4 1289.0,939.8 1290.5,935.3 1292.0,931.0 1293.5,926.9 1295.0,922.9 1296.5,919.0 1298.0,915.3 1299.5,911.7 1301.0,908.3 1302.5,905.0 1304.0,901.9 1305.5,898.9 1307.0,896.1 1308.5,893.4 1310.0,890.8 1311.5,888.4 1313.0,886.1 1314.5,884.0 1316.0,882.0 1317.5,880.2 1319.0,878.5 1320.5,876.9 1322.0,875.5 1323.5,874.2 1325.0,873.1 1326.5,872.1 1328.0,871.2 1329.5,870.5 1331.0,869.9 1332.5,869.4 1334.0,869.1 1335.5,868.9 1337.0,868.8 1338.5,868.8 1340.0,869.0 1341.5,869.3 1343.0,869.7 1344.5,870.2 1346.0,870.8 1347.5,871.6 1349.0,872.4 1350.5,873.4 1352.0,874.5 1353.5,875.7 1355.0,877.0 1356.5,878.4 1358.0,879.9 1359.5,881.5 1361.0,883.2 1362.5,885.0 1364.0,886.8 1365.5,888.8 1367.0,890.9 1368.5,893.0 1370.0,895.3 1371.5,897.6 1373.0,900.0 1374.5,902.5 1376.0,905.0 1377.5,907.7 1379.0,910.4 1380.5,913.1 1382.0,916.0 1383.5,918.9 1385.0,921.9 1386.5,924.9 1388.0,928.0 1389.5,931.2 1391.0,934.4 1392.5,937.6 1394.0,941.0 1395.5,944.3 1397.0,947.7 1398.5,951.2 1400.0,954.7 1401.5,958.3 1403.0,961.9 1404.5,965.5 1406.0,969.2 1407.5,972.9 1409.0,976.6 1410.5,980.4 1412.0,984.2 1413.5,988.0 1415.0,991.9 1416.5,995.7 1418.0,999.6 1419.5,1003.6 1421.0,1007.5 1422.5,1011.5 1424.0,1015.4 1425.5,1019.4 1427.0,1023.4 1428.5,1027.5 1430.0,1031.5 1431.5,1035.5 1433.0,1039.6 1434.5,1043.6 1436.0,1047.7 1437.5,1051.7 1439.0,1055.8 1440.5,1059.9 1442.0,1063.9 1443.5,1068.0 1445.0,1072.1 1446.5,1076.1 1448.0,1080.2 1449.5,1084.2 1451.0,1088.2 1452.5,1092.3 1454.0,1096.3 1455.5,1100.3 1457.0,1104.3 1458.5,1108.3 1460.0,1112.3 1461.5,1116.2 1463.0,1120.2 1464.5,1124.1 1466.0,1128.0 1467.5,1131.9 1469.0,1135.8 1470.5,1139.6 1472.0,1143.5 1473.5,1147.3 1475.0,1151.1 1476.5,1154.9 1478.0,1158.6 1479.5,1162.3 1481.0,1166.1 1482.5,1169.7 1484.0,1173.4 1485.5,1177.0 1487.0,1180.6 1488.5,1184.2 1490.0,1187.8 1491.5,1191.3 1493.0,1194.8 1494.5,1198.3 1496.0,1201.7 1497.5,1205.1 1499.0,1208.5 1500.5,1211.9 1502.0,1215.2 1503.5,1218.5 1505.0,1221.8 1506.5,1225.0 1508.0,1228.2 1509.5,1231.4 1511.0,1234.5 1512.5,1237.6 1514.0,1240.7 1515.5,1243.8 1517.0,1246.8 1518.5,1249.8 1520.0,1252.7 1521.5,1255.6 1523.0,1258.5 1524.5,1261.4 1526.0,1264.2 1527.5,1267.0 1529.0,1269.8 1530.5,1272.5 1532.0,1275.2 1533.5,1277.9 1535.0,1280.5 1536.5,1283.1 1538.0,1285.7 1539.5,1288.2 1541.0,1290.7 1542.5,1293.2 1544.0,1295.7 1545.5,1298.1 1547.0,1300.5 1548.5,1302.8 1550.0,1305.1 1551.5,1307.4 1553.0,1309.7 1554.5,1311.9 1556.0,1314.1 1557.5,1316.3 1559.0,1318.4 1560.5,1320.5 1562.0,1322.6 1563.5,1324.6 1565.0,1326.7 1566.5,1328.6 1568.0,1330.6 1569.5,1332.5 1571.0,1334.4 1572.5,1336.3 1574.0,1338.1 1575.5,1340.0 1577.0,1341.8 1578.5,1343.5 1580.0,1345.2 1581.5,1347.0 1583.0,1348.6 1584.5,1350.3 1586.0,1351.9 1587.5,1353.5 1589.0,1355.1 1590.5,1356.6 1592.0,1358.2 1593.5,1359.7 1595.0,1361.1 1596.5,1362.6 1598.0,1364.0 1599.5,1365.4 1601.0,1366.8 1602.5,1368.2 1604.0,1369.5 1605.5,1370.8 1607.0,1372.1 1608.5,1373.4 1610.0,1374.6 1611.5,1375.8 1613.0,1377.0 1614.5,1378.2 1616.0,1379.4 1617.5,1380.5 1619.0,1381.6 1620.5,1382.7 1622.0,1383.8 1623.5,1384.8 1625.0,1385.9 1626.5,1386.9 1628.0,1387.9 1629.5,1388.9 1631.0,1389.8 1632.5,1390.8 1634.0,1391.7 1635.5,1392.6 1637.0,1393.5 1638.5,1394.4 1640.0,1395.2 1641.5,1396.1 1643.0,1396.9 1644.5,1397.7 1646.0,1398.5 1647.5,1399.3 1649.0,1400.0 1650.5,1400.8 1652.0,1401.5 1653.5,1402.2 1655.0,1402.9 1656.5,1403.6 1658.0,1404.3 1659.5,1405.0 1661.0,1405.6 1662.5,1406.3 1664.0,1406.9 1665.5,1407.5 1667.0,1408.1 1668.5,1408.7 1670.0,1409.2 1671.5,1409.8 1673.0,1410.3 1674.5,1410.9 1676.0,1411.4 1677.5,1411.9 1679.0,1412.4 1680.5,1412.9 1682.0,1413.4 1683.5,1413.9 1685.0,1414.3 1686.5,1414.8 1688.0,1415.2 1689.5,1415.7 1691.0,1416.1 1692.5,1416.5 1694.0,1416.9 1695.5,1417.3 1697.0,1417.7 1698.5,1418.1 1700.0,1418.4 1701.5,1418.8 1703.0,1419.1 1704.5,1419.5 1706.0,1419.8 1707.5,1420.2 1709.0,1420.5 1710.5,1420.8 1712.0,1421.1 1713.5,1421.4 1715.0,1421.7 1716.5,1422.0 1718.0,1422.3 1719.5,1422.5 1721.0,1422.8 1722.5,1423.1 1724.0,1423.3 1725.5,1423.6 1727.0,1423.8 1728.5,1424.0 1730.0,1424.3 1731.5,1424.5 1733.0,1424.7 1734.5,1424.9 1736.0,1425.2 1737.5,1425.4 1739.0,1425.6 1740.5,1425.8 1742.0,1425.9 1743.5,1426.1 1745.0,1426.3 1746.5,1426.5 1748.0,1426.7 1749.5,1426.8 1751.0,1427.0 1752.5,1427.2 1754.0,1427.3 1755.5,1427.5 1757.0,1427.6 1758.5,1427.8 1760.0,1427.9 1761.5,1428.0 1763.0,1428.2 1764.5,1428.3 1766.0,1428.4 1767.5,1428.6 1769.0,1428.7 1770.5,1428.8 1772.0,1428.9 1773.5,1429.0 1775.0,1429.1 1776.5,1429.2 1778.0,1429.3 1779.5,1429.4 1781.0,1429.5 1782.5,1429.6 1784.0,1429.7 1785.5,1429.8 1787.0,1429.9 1788.5,1430.0 1790.0,1430.1 1791.5,1430.2 1793.0,1430.2 1794.5,1430.3 1796.0,1430.4 1797.5,1430.5 1799.0,1430.5 1800.5,1430.6 1802.0,1430.7 1803.5,1430.8 1805.0,1430.8 1806.5,1430.9 1808.0,1430.9 1809.5,1431.0 1811.0,1431.1 1812.5,1431.1 1814.0,1431.2 1815.5,1431.2 1817.0,1431.3 1818.5,1431.3 1820.0,1431.4 1821.5,1431.4 1823.0,1431.5 1824.5,1431.5 1826.0,1431.6 1827.5,1431.6 1829.0,1431.6 1830.5,1431.7 1832.0,1431.7 1833.5,1431.8 1835.0,1431.8 1836.5,1431.8 1838.0,1431.9 1839.5,1431.9 1841.0,1431.9 1842.5,1432.0 1844.0,1432.0 1845.5,1432.0 1847.0,1432.1 1848.5,1432.1 1850.0,1432.1 1851.5,1432.1 1853.0,1432.2 1854.5,1432.2 1856.0,1432.2 1857.5,1432.2 1859.0,1432.3 1860.5,1432.3 1862.0,1432.3 1863.5,1432.3 1865.0,1432.3 1866.5,1432.4 1868.0,1432.4 1869.5,1432.4 1871.0,1432.4 1872.5,1432.4 1874.0,1432.5 1875.5,1432.5 1877.0,1432.5 1878.5,1432.5 1880.0,1432.5 1881.5,1432.5 1883.0,1432.6 1884.5,1432.6 1886.0,1432.6 1887.5,1432.6 1889.0,1432.6 1890.5,1432.6 1892.0,1432.6 1893.5,1432.6 1895.0,1432.7 1896.5,1432.7 1898.0,1432.7 1899.5,1432.7 1901.0,1432.7 1902.5,1432.7 1904.0,1432.7 1905.5,1432.7 1907.0,1432.7 1908.5,1432.7 1910.0,1432.7 1911.5,1432.8 1913.0,1432.8 1914.5,1432.8 1916.0,1432.8 1917.5,1432.8 1919.0,1432.8 1920.5,1432.8 1922.0,1432.8 1923.5,1432.8 1925.0,1432.8 1926.5,1432.8 1928.0,1432.8 1929.5,1432.8 1931.0,1432.8 1932.5,1432.8 1934.0,1432.9 1935.5,1432.9 1937.0,1432.9 1938.5,1432.9 1940.0,1432.9 1941.5,1432.9 1943.0,1432.9 1944.5,1432.9 1946.0,1432.9 1947.5,1432.9 1949.0,1432.9 1950.5,1432.9 1952.0,1432.9 1953.5,1432.9 1955.0,1432.9 1956.5,1432.9 1958.0,1432.9 1959.5,1432.9 1961.0,1432.9 1962.5,1432.9 1964.0,1432.9 1965.5,1432.9 1967.0,1432.9 1968.5,1432.9 1970.0,1432.9 1971.5,1432.9 1973.0,1432.9 1974.5,1432.9 1976.0,1432.9 1977.5,1432.9 1979.0,1432.9 1980.5,1432.9 1982.0,1433.0 1983.5,1433.0 1985.0,1433.0 1986.5,1433.0 1988.0,1433.0 1989.5,1433.0 1991.0,1433.0 1992.5,1433.0 1994.0,1433.0 1995.5,1433.0 1997.0,1433.0 1998.5,1433.0 2000.0,1433.0 2001.5,1433.0 2003.0,1433.0 2004.5,1433.0 2006.0,1433.0 2007.5,1433.0 2009.0,1433.0 2010.5,1433.0 2012.0,1433.0 2013.5,1433.0 2015.0,1433.0 2016.5,1433.0 2018.0,1433.0 2019.5,1433.0 2021.0,1433.0 2022.5,1433.0 2024.0,1433.0 2025.5,1433.0 2027.0,1433.0 2028.5,1433.0 2030.0,1433.0 2031.5,1433.0 2033.0,1433.0 2034.5,1433.0 2036.0,1433.0 2037.5,1433.0 2039.0,1433.0 2040.5,1433.0 2042.0,1433.0 2043.5,1433.0 2045.0,1433.0 2046.5,1433.0 2048.0,1433.0 2049.5,1433.0 2051.0,1433.0 2052.5,1433.0 2054.0,1433.0 2055.5,1433.0 2057.0,1433.0"/><polyline fill="none" stroke="#ff00ff" stroke-width="7.2" stroke-linejoin="round" points="1169.0,1433.0 1170.5,1432.9 1172.0,1432.7 1173.5,1432.4 1175.0,1432.0 1176.5,1431.4 1178.0,1430.8 1179.5,1430.0 1181.0,1429.1 1182.5,1428.1 1184.0,1427.0 1185.5,1425.8 1187.0,1424.5 1188.5,1423.1 1190.0,1421.6 1191.5,1420.0 1193.0,1418.4 1194.5,1416.6 1196.0,1414.7 1197.5,1412.7 1199.0,1410.7 1200.5,1408.5 1202.0,1406.3 1203.5,1404.0 1205.0,1401.6 1206.5,1399.1 1208.0,1396.6 1209.5,1394.0 1211.0,1391.3 1212.5,1388.5 1214.0,1385.7 1215.5,1382.8 1217.0,1379.8 1218.5,1376.8 1220.0,1373.7 1221.5,1370.6 1223.0,1367.3 1224.5,1364.1 1226.0,1360.8 1227.5,1357.4 1229.0,1354.0 1230.5,1350.5 1232.0,1347.0 1233.5,1343.4 1235.0,1339.8 1236.5,1336.2 1238.0,1332.5 1239.5,1328.8 1241.0,1325.0 1242.5,1321.3 1244.0,1317.4 1245.5,1313.6 1247.0,1309.7 1248.5,1305.8 1250.0,1301.9 1251.5,1298.0 1253.0,1294.0 1254.5,1290.1 1256.0,1286.1 1257.5,1282.1 1259.0,1278.1 1260.5,1274.0 1262.0,1270.0 1263.5,1266.0 1265.0,1261.9 1266.5,1257.9 1268.0,1253.8 1269.5,1249.8 1271.0,1245.7 1272.5,1241.7 1274.0,1237.6 1275.5,1233.6 1277.0,1229.6 1278.5,1225.5 1280.0,1221.5 1281.5,1217.5 1283.0,1213.5 1284.5,1209.6 1286.0,1205.6 1287.5,1201.7 1289.0,1197.8 1290.5,1193.9 1292.0,1190.0 1293.5,1186.2 1295.0,1182.4 1296.5,1178.6 1298.0,1174.8 1299.5,1171.1 1301.0,1167.4 1302.5,1163.7 1304.0,1160.0 1305.5,1156.4 1307.0,1152.8 1308.5,1149.3 1310.0,1145.8 1311.5,1142.3 1313.0,1138.9 1314.5,1135.5 1316.0,1132.1 1317.5,1128.8 1319.0,1125.5 1320.5,1122.3 1322.0,1119.1 1323.5,1116.0 1325.0,1112.8 1326.5,1109.8 1328.0,1106.8 1329.5,1103.8 1331.0,1100.9 1332.5,1098.0 1334.0,1095.2 1335.5,1092.4 1337.0,1089.7 1338.5,1087.1 1340.0,1084.4 1341.5,1081.9 1343.0,1079.3 1344.5,1076.9 1346.0,1074.5 1347.5,1072.1 1349.0,1069.8 1350.5,1067.5 1352.0,1065.3 1353.5,1063.2 1355.0,1061.1 1356.5,1059.1 1358.0,1057.1 1359.5,1055.1 1361.0,1053.3 1362.5,1051.4 1364.0,1049.7 1365.5,1048.0 1367.0,1046.3 1368.5,1044.7 1370.0,1043.2 1371.5,1041.7 1373.0,1040.3 1374.5,1038.9 1376.0,1037.6 1377.5,1036.3 1379.0,1035.1 1380.5,1033.9 1382.0,1032.8 1383.5,1031.8 1385.0,1030.8 1386.5,1029.8 1388.0,1029.0 1389.5,1028.1 1391.0,1027.4 1392.5,1026.6 1394.0,1026.0 1395.5,1025.4 1397.0,1024.8 1398.5,1024.3 1400.0,1023.8 1401.5,1023.4 1403.0,1023.1 1404.5,1022.8 1406.0,1022.5 1407.5,1022.3 1409.0,1022.2 1410.5,1022.1 1412.0,1022.0 1413.5,1022.0 1415.0,1022.1 1416.5,1022.2 1418.0,1022.3 1419.5,1022.5 1421.0,1022.8 1422.5,1023.1 1424.0,1023.4 1425.5,1023.8 1427.0,1024.2 1428.5,1024.7 1430.0,1025.2 1431.5,1025.7 1433.0,1026.3 1434.5,1027.0 1436.0,1027.7 1437.5,1028.4 1439.0,1029.2 1440.5,1030.0 1442.0,1030.8 1443.5,1031.7 1445.0,1032.6 1446.5,1033.6 1448.0,1034.6 1449.5,1035.6 1451.0,1036.7 1452.5,1037.8 1454.0,1039.0 1455.5,1040.1 1457.0,1041.4 1458.5,1042.6 1460.0,1043.9 1461.5,1045.2 1463.0,1046.5 1464.5,1047.9 1466.0,1049.3 1467.5,1050.8 1469.0,1052.2 1470.5,1053.7 1472.0,1055.3 1473.5,1056.8 1475.0,1058.4 1476.5,1060.0 1478.0,1061.6 1479.5,1063.3 1481.0,1065.0 1482.5,1066.7 1484.0,1068.4 1485.5,1070.1 1487.0,1071.9 1488.5,1073.7 1490.0,1075.5 1491.5,1077.4 1493.0,1079.2 1494.5,1081.1 1496.0,1083.0 1497.5,1084.9 1499.0,1086.8 1500.5,1088.8 1502.0,1090.7 1503.5,1092.7 1505.0,1094.7 1506.5,1096.7 1508.0,1098.7 1509.5,1100.8 1511.0,1102.8 1512.5,1104.9 1514.0,1107.0 1515.5,1109.1 1517.0,1111.2 1518.5,1113.3 1520.0,1115.4 1521.5,1117.5 1523.0,1119.7 1524.5,1121.8 1526.0,1124.0 1527.5,1126.1 1529.0,1128.3 1530.5,1130.5 1532.0,1132.7 1533.5,1134.8 1535.0,1137.0 1536.5,1139.2 1538.0,1141.4 1539.5,1143.7 1541.0,1145.9 1542.5,1148.1 1544.0,1150.3 1545.5,1152.5 1547.0,1154.7 1548.5,1157.0 1550.0,1159.2 1551.5,1161.4 1553.0,1163.6 1554.5,1165.9 1556.0,1168.1 1557.5,1170.3 1559.0,1172.5 1560.5,1174.8 1562.0,1177.0 1563.5,1179.2 1565.0,1181.4 1566.5,1183.6 1568.0,1185.8 1569.5,1188.0 1571.0,1190.2 1572.5,1192.4 1574.0,1194.6 1575.5,1196.8 1577.0,1199.0 1578.5,1201.2 1580.0,1203.4 1581.5,1205.5 1583.0,1207.7 1584.5,1209.8 1586.0,1212.0 1587.5,1214.1 1589.0,1216.2 1590.5,1218.4 1592.0,1220.5 1593.5,1222.6 1595.0,1224.7 1596.5,1226.8 1598.0,1228.9 1599.5,1230.9 1601.0,1233.0 1602.5,1235.1 1604.0,1237.1 1605.5,1239.2 1607.0,1241.2 1608.5,1243.2 1610.0,1245.2 1611.5,1247.2 1613.0,1249.2 1614.5,1251.2 1616.0,1253.1 1617.5,1255.1 1619.0,1257.0 1620.5,1259.0 1622.0,1260.9 1623.5,1262.8 1625.0,1264.7 1626.5,1266.6 1628.0,1268.5 1629.5,1270.3 1631.0,1272.2 1632.5,1274.0 1634.0,1275.8 1635.5,1277.6 1637.0,1279.4 1638.5,1281.2 1640.0,1283.0 1641.5,1284.8 1643.0,1286.5 1644.5,1288.3 1646.0,1290.0 1647.5,1291.7 1649.0,1293.4 1650.5,1295.1 1652.0,1296.8 1653.5,1298.4 1655.0,1300.1 1656.5,1301.7 1658.0,1303.3 1659.5,1304.9 1661.0,1306.5 1662.5,1308.1 1664.0,1309.7 1665.5,1311.2 1667.0,1312.8 1668.5,1314.3 1670.0,1315.8 1671.5,1317.3 1673.0,1318.8 1674.5,1320.3 1676.0,1321.8 1677.5,1323.2 1679.0,1324.6 1680.5,1326.1 1682.0,1327.5 1683.5,1328.9 1685.0,1330.2 1686.5,1331.6 1688.0,1333.0 1689.5,1334.3 1691.0,1335.6 1692.5,1337.0 1694.0,1338.3 1695.5,1339.6 1697.0,1340.8 1698.5,1342.1 1700.0,1343.3 1701.5,1344.6 1703.0,1345.8 1704.5,1347.0 1706.0,1348.2 1707.5,1349.4 1709.0,1350.6 1710.5,1351.7 1712.0,1352.9 1713.5,1354.0 1715.0,1355.2 1716.5,1356.3 1718.0,1357.4 1719.5,1358.5 1721.0,1359.5 1722.5,1360.6 1724.0,1361.7 1725.5,1362.7 1727.0,1363.7 1728.5,1364.7 1730.0,1365.7 1731.5,1366.7 1733.0,1367.7 1734.5,1368.7 1736.0,1369.6 1737.5,1370.6 1739.0,1371.5 1740.5,1372.5 1742.0,1373.4 1743.5,1374.3 1745.0,1375.2 1746.5,1376.0 1748.0,1376.9 1749.5,1377.8 1751.0,1378.6 1752.5,1379.5 1754.0,1380.3 1755.5,1381.1 1757.0,1381.9 1758.5,1382.7 1760.0,1383.5 1761.5,1384.3 1763.0,1385.0 1764.5,1385.8 1766.0,1386.5 1767.5,1387.3 1769.0,1388.0 1770.5,1388.7 1772.0,1389.4 1773.5,1390.1 1775.0,1390.8 1776.5,1391.5 1778.0,1392.2 1779.5,1392.8 1781.0,1393.5 1782.5,1394.1 1784.0,1394.8 1785.5,1395.4 1787.0,1396.0 1788.5,1396.6 1790.0,1397.2 1791.5,1397.8 1793.0,1398.4 1794.5,1399.0 1796.0,1399.5 1797.5,1400.1 1799.0,1400.6 1800.5,1401.2 1802.0,1401.7 1803.5,1402.2 1805.0,1402.8 1806.5,1403.3 1808.0,1403.8 1809.5,1404.3 1811.0,1404.8 1812.5,1405.3 1814.0,1405.7 1815.5,1406.2 1817.0,1406.7 1818.5,1407.1 1820.0,1407.6 1821.5,1408.0 1823.0,1408.4 1824.5,1408.9 1826.0,1409.3 1827.5,1409.7 1829.0,1410.1 1830.5,1410.5 1832.0,1410.9 1833.5,1411.3 1835.0,1411.7 1836.5,1412.1 1838.0,1412.4 1839.5,1412.8 1841.0,1413.2 1842.5,1413.5 1844.0,1413.9 1845.5,1414.2 1847.0,1414.6 1848.5,1414.9 1850.0,1415.2 1851.5,1415.5 1853.0,1415.9 1854.5,1416.2 1856.0,1416.5 1857.5,1416.8 1859.0,1417.1 1860.5,1417.4 1862.0,1417.7 1863.5,1418.0 1865.0,1418.2 1866.5,1418.5 1868.0,1418.8 1869.5,1419.0 1871.0,1419.3 1872.5,1419.6 1874.0,1419.8 1875.5,1420.1 1877.0,1420.3 1878.5,1420.5 1880.0,1420.8 1881.5,1421.0 1883.0,1421.2 1884.5,1421.5 1886.0,1421.7 1887.5,1421.9 1889.0,1422.1 1890.5,1422.3 1892.0,1422.5 1893.5,1422.7 1895.0,1422.9 1896.5,1423.1 1898.0,1423.3 1899.5,1423.5 1901.0,1423.7 1902.5,1423.9 1904.0,1424.0 1905.5,1424.2 1907.0,1424.4 1908.5,1424.6 1910.0,1424.7 1911.5,1424.9 1913.0,1425.0 1914.5,1425.2 1916.0,1425.4 1917.5,1425.5 1919.0,1425.7 1920.5,1425.8 1922.0,1426.0 1923.5,1426.1 1925.0,1426.2 1926.5,1426.4 1928.0,1426.5 1929.5,1426.6 1931.0,1426.8 1932.5,1426.9 1934.0,1427.0 1935.5,1427.1 1937.0,1427.3 1938.5,1427.4 1940.0,1427.5 1941.5,1427.6 1943.0,1427.7 1944.5,1427.8 1946.0,1427.9 1947.5,1428.0 1949.0,1428.1 1950.5,1428.2 1952.0,1428.3 1953.5,1428.4 1955.0,1428.5 1956.5,1428.6 1958.0,1428.7 1959.5,1428.8 1961.0,1428.9 1962.5,1429.0 1964.0,1429.1 1965.5,1429.1 1967.0,1429.2 1968.5,1429.3 1970.0,1429.4 1971.5,1429.5 1973.0,1429.5 1974.5,1429.6 1976.0,1429.7 1977.5,1429.7 1979.0,1429.8 1980.5,1429.9 1982.0,1429.9 1983.5,1430.0 1985.0,1430.1 1986.5,1430.1 1988.0,1430.2 1989.5,1430.3 1991.0,1430.3 1992.5,1430.4 1994.0,1430.4 1995.5,1430.5 1997.0,1430.5 1998.5,1430.6 2000.0,1430.7 2001.5,1430.7 2003.0,1430.8 2004.5,1430.8 2006.0,1430.9 2007.5,1430.9 2009.0,1430.9 2010.5,1431.0 2012.0,1431.0 2013.5,1431.1 2015.0,1431.1 2016.5,1431.2 2018.0,1431.2 2019.5,1431.2 2021.0,1431.3 2022.5,1431.3 2024.0,1431.4 2025.5,1431.4 2027.0,1431.4 2028.5,1431.5 2030.0,1431.5 2031.5,1431.5 2033.0,1431.6 2034.5,1431.6 2036.0,1431.6 2037.5,1431.7 2039.0,1431.7 2040.5,1431.7 2042.0,1431.8 2043.5,1431.8 2045.0,1431.8 2046.5,1431.8 2048.0,1431.9 2049.5,1431.9 2051.0,1431.9 2052.5,1431.9 2054.0,1432.0 2055.5,1432.0 2057.0,1432.0"/><path fill="#ff0000" d="M1161.7,1383.9L1200.0,1383.9L1180.8,1349.5ZM1185.3,1015.9L1223.6,1015.9L1204.5,981.5ZM1209.0,585.7L1247.3,585.7L1228.1,551.3ZM1232.6,284.7L1270.9,284.7L1251.8,250.3ZM1256.3,301.6L1294.6,301.6L1275.4,267.2ZM1279.9,549.1L1318.2,549.1L1299.1,514.7ZM1303.6,844.3L1341.9,844.3L1322.7,809.9ZM1327.2,1088.7L1365.5,1088.7L1346.4,1054.3ZM1350.9,1245.8L1389.2,1245.8L1370.0,1211.4ZM1374.5,1345.7L1412.8,1345.7L1393.7,1311.3ZM1398.2,1402.4L1436.5,1402.4L1417.3,1368.0ZM1421.8,1428.4L1460.1,1428.4L1441.0,1394.0ZM1445.5,1441.0L1483.8,1441.0L1464.6,1406.6ZM1469.1,1443.7L1507.4,1443.7L1488.2,1409.3ZM1492.7,1444.9L1531.0,1444.9L1511.9,1410.5Z"/><path fill="#00ff00" d="M1162.6,1383.0L1200.9,1383.0L1181.8,1416.5ZM1188.2,1184.7L1226.5,1184.7L1207.3,1218.2ZM1213.7,953.7L1252.0,953.7L1232.8,987.2ZM1239.2,729.3L1277.5,729.3L1258.4,762.8ZM1264.8,642.7L1303.1,642.7L1283.9,676.2ZM1290.3,612.0L1328.6,612.0L1309.5,645.5ZM1315.9,697.0L1354.2,697.0L1335.0,730.5ZM1341.4,844.2L1379.7,844.2L1360.5,877.7ZM1366.9,967.0L1405.2,967.0L1386.1,1000.5ZM1392.5,1125.6L1430.8,1125.6L1411.6,1159.1ZM1418.0,1256.3L1456.3,1256.3L1437.2,1289.8ZM1443.6,1326.4L1481.9,1326.4L1462.7,1359.9ZM1469.1,1368.6L1507.4,1368.6L1488.2,1402.1ZM1494.6,1402.0L1532.9,1402.0L1513.8,1435.5ZM1520.2,1411.0L1558.5,1411.0L1539.3,1444.5ZM1545.7,1415.7L1584.0,1415.7L1564.9,1449.2ZM1571.3,1420.8L1609.6,1420.8L1590.4,1454.3ZM1596.8,1420.8L1635.1,1420.8L1615.9,1454.3ZM1622.3,1420.8L1660.6,1420.8L1641.5,1454.3ZM1647.9,1420.8L1686.2,1420.8L1667.0,1454.3ZM1673.4,1420.8L1711.7,1420.8L1692.6,1454.3ZM1699.0,1420.8L1737.3,1420.8L1718.1,1454.3ZM1724.5,1420.8L1762.8,1420.8L1743.6,1454.3ZM1750.0,1420.8L1788.3,1420.8L1769.2,1454.3ZM1775.6,1420.8L1813.9,1420.8L1794.7,1454.3Z"/><path fill="#0000ff" d="M1179.4,1376.3h28.3v28.3h-28.3ZM1228.5,1104.8h28.3v28.3h-28.3ZM1277.7,924.9h28.3v28.3h-28.3ZM1326.8,856.0h28.3v28.3h-28.3ZM1375.9,924.9h28.3v28.3h-28.3ZM1425.1,1057.2h28.3v28.3h-28.3ZM1474.2,1161.5h28.3v28.3h-28.3ZM1523.3,1261.0h28.3v28.3h-28.3ZM1572.4,1329.0h28.3v28.3h-28.3ZM1621.6,1392.9h28.3v28.3h-28.3ZM1670.7,1411.8h28.3v28.3h-28.3ZM1719.8,1418.8h28.3v28.3h-28.3ZM1769.0,1418.8h28.3v28.3h-28.3ZM1818.1,1418.8h28.3v28.3h-28.3ZM1867.2,1418.8h28.3v28.3h-28.3ZM1916.3,1418.8h28.3v28.3h-28.3ZM1965.5,1418.8h28.3v28.3h-28.3ZM2014.6,1418.8h28.3v28.3h-28.3Z"/><path fill="#ff00ff" d="M1208.5,1399.7L1208.5,1437.2L1175.0,1418.4ZM1264.6,1277.3L1264.6,1314.8L1231.1,1296.0ZM1320.6,1141.1L1320.6,1178.6L1287.1,1159.9ZM1376.7,1001.4L1376.7,1038.9L1343.2,1020.1ZM1432.7,1002.2L1432.7,1039.7L1399.2,1020.9ZM1488.8,1054.1L1488.8,1091.6L1455.3,1072.9ZM1544.8,1122.6L1544.8,1160.1L1511.3,1141.4ZM1600.8,1203.7L1600.8,1241.2L1567.3,1222.4ZM1656.9,1274.1L1656.9,1311.6L1623.4,1292.9ZM1712.9,1320.2L1712.9,1357.7L1679.4,1338.9ZM1769.0,1360.7L1769.0,1398.2L1735.5,1379.5ZM1825.0,1365.8L1825.0,1403.3L1791.5,1384.6ZM1881.1,1393.4L1881.1,1430.9L1847.6,1412.1ZM1937.1,1414.2L1937.1,1451.8L1903.6,1433.0ZM1993.2,1414.2L1993.2,1451.8L1959.7,1433.0ZM2049.2,1414.2L2049.2,1451.8L2015.7,1433.0Z"/></g>
<g style="font-family:'Liberation Sans',Arial,sans-serif;font-size:70px" fill="#000"><text x="236" y="1451.5" text-anchor="end">0.0</text><text x="236" y="1107.1" text-anchor="end">0.5</text><text x="236" y="762.8" text-anchor="end">1.0</text><text x="236" y="418.4" text-anchor="end">1.5</text><text x="236" y="74.0" text-anchor="end">2.0</text><text x="2099" y="1451.5">0.00</text><text x="2099" y="1254.7">0.05</text><text x="2099" y="1057.9">0.10</text><text x="2099" y="861.1">0.15</text><text x="2099" y="664.4">0.20</text><text x="2099" y="467.6">0.25</text><text x="2099" y="270.8">0.30</text><text x="2099" y="74.0">0.35</text><text x="281.5" y="1531.5" text-anchor="middle">0</text><text x="460.5" y="1531.5" text-anchor="middle">1</text><text x="639.5" y="1531.5" text-anchor="middle">2</text><text x="818.5" y="1531.5" text-anchor="middle">3</text><text x="997.5" y="1531.5" text-anchor="middle">4</text><text x="1167.0" y="1531.5" text-anchor="middle">0</text><text x="1344.4" y="1531.5" text-anchor="middle">5</text><text x="1521.7" y="1531.5" text-anchor="middle">10</text><text x="1699.1" y="1531.5" text-anchor="middle">15</text><text x="1876.4" y="1531.5" text-anchor="middle">20</text><text x="2053.8" y="1531.5" text-anchor="middle">25</text></g>
<text x="1075" y="1653.5" style="font-family:'Liberation Sans',Arial,sans-serif;font-size:72px">r <tspan dx="3">(</tspan>n<tspan dx="2.4">m</tspan><tspan dx="4.6">)</tspan></text><text transform="translate(84,983.0) rotate(-90)" style="font-family:'Liberation Sans',Arial,sans-serif;font-size:72px"><tspan x="4.2" y="0">4</tspan><tspan x="43.8" y="0" style="font-family:'Liberation Serif','Times New Roman',serif">π</tspan><tspan x="78.0" y="0">r</tspan><tspan x="100.6" y="-40" style="font-size:45px">2</tspan><tspan x="124.8" y="0">G</tspan><tspan x="179.4" y="0">s</tspan><tspan x="212.0" y="0">(</tspan><tspan x="235.0" y="0">r</tspan><tspan x="257.0" y="0">,</tspan><tspan x="276.8" y="0" style="font-family:'Liberation Serif','Times New Roman',serif">Δ</tspan><tspan x="315.7" y="0">t</tspan><tspan x="339.2" y="0">)</tspan></text><text x="318" y="134" style="font-family:'Liberation Sans',Arial,sans-serif;font-size:68px">(a)</text><text x="1207" y="139" style="font-family:'Liberation Sans',Arial,sans-serif;font-size:68px">(b)</text><text x="862" y="165.1" style="font-family:'Liberation Sans',Arial,sans-serif;font-size:67.5px;letter-spacing:-0.3px"><tspan style="font-family:'Liberation Serif','Times New Roman',serif;font-size:61.4px">Δ</tspan><tspan dx="-2.2">t=0.1ns</tspan></text><text x="1757" y="165.1" style="font-family:'Liberation Sans',Arial,sans-serif;font-size:67.5px;letter-spacing:-0.3px"><tspan style="font-family:'Liberation Serif','Times New Roman',serif;font-size:61.4px">Δ</tspan><tspan dx="-1.5">t=5ns</tspan></text><text x="862" y="249.0" style="font-family:'Liberation Sans',Arial,sans-serif;font-size:67.5px;letter-spacing:-0.3px"><tspan style="font-family:'Liberation Serif','Times New Roman',serif;font-size:61.4px">Δ</tspan><tspan dx="-2.2">t=0.5ns</tspan></text><text x="1757" y="249.0" style="font-family:'Liberation Sans',Arial,sans-serif;font-size:67.5px;letter-spacing:-0.3px"><tspan style="font-family:'Liberation Serif','Times New Roman',serif;font-size:61.4px">Δ</tspan><tspan dx="-1.5">t=10ns</tspan></text><text x="862" y="331.9" style="font-family:'Liberation Sans',Arial,sans-serif;font-size:67.5px;letter-spacing:-0.3px"><tspan style="font-family:'Liberation Serif','Times New Roman',serif;font-size:61.4px">Δ</tspan><tspan dx="-2.2">t=1ns</tspan></text><text x="1757" y="331.9" style="font-family:'Liberation Sans',Arial,sans-serif;font-size:67.5px;letter-spacing:-0.3px"><tspan style="font-family:'Liberation Serif','Times New Roman',serif;font-size:61.4px">Δ</tspan><tspan dx="-1.5">t=20ns</tspan></text><text x="862" y="414.2" style="font-family:'Liberation Sans',Arial,sans-serif;font-size:67.5px;letter-spacing:-0.3px"><tspan style="font-family:'Liberation Serif','Times New Roman',serif;font-size:61.4px">Δ</tspan><tspan dx="-2.2">t=2ns</tspan></text><text x="1757" y="414.2" style="font-family:'Liberation Sans',Arial,sans-serif;font-size:67.5px;letter-spacing:-0.3px"><tspan style="font-family:'Liberation Serif','Times New Roman',serif;font-size:61.4px">Δ</tspan><tspan dx="-1.5">t=40ns</tspan></text>
<path fill="#ff0000" d="M732.3,155.3L770.6,155.3L751.5,120.5Z"/><rect fill="#00ff00" x="736.8" y="211.5" width="28.3" height="28.3"/><path fill="#0000ff" d="M732.3,297L770.6,297L751.5,330.9Z"/><path fill="#ff00ff" d="M752,371.2L772,391.6L752,412.1L732.3,391.6Z"/><path fill="#ff0000" d="M1647.2,155.3L1685.5,155.3L1666.4,120.5Z"/><path fill="#00ff00" d="M1647.2,214.2L1685.5,214.2L1666.4,247.8Z"/><rect fill="#0000ff" x="1650.3" y="294" width="29.5" height="28.1"/><path fill="#ff00ff" d="M1678.75,372.9L1678.75,410.7L1644.6,391.8Z"/>
</svg></body></html>
